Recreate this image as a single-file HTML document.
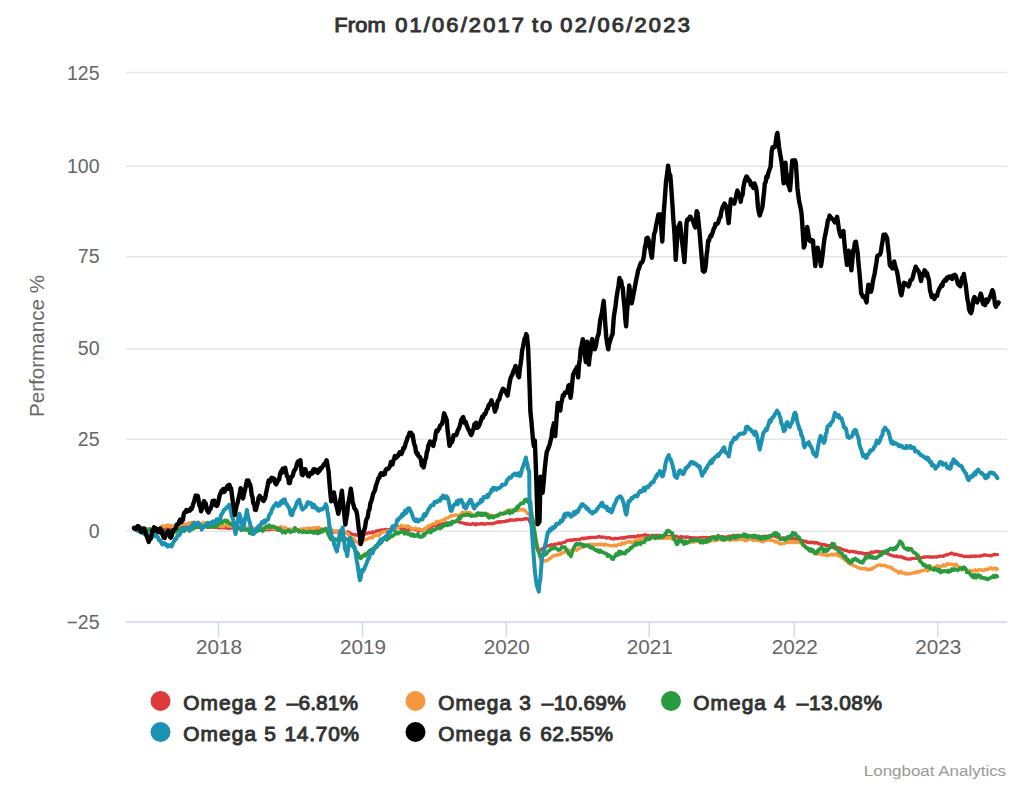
<!DOCTYPE html>
<html><head><meta charset="utf-8"><style>
html,body{margin:0;padding:0;background:#fff;width:1024px;height:785px;overflow:hidden}
svg{display:block}
text{font-family:"Liberation Sans",sans-serif}
.yl{font-size:19.5px;fill:#666}
.xl{font-size:20px;fill:#666}
.lg{font-size:18.5px;font-weight:bold;fill:#333}
.lgr{font-size:19.5px;fill:#333;stroke:#333;stroke-width:0.95px}
.tt{font-size:19.5px;font-weight:bold;fill:#333}
.ttr{font-size:19.5px;fill:#333;stroke:#333;stroke-width:0.95px}
.at{font-size:19.5px;fill:#666}
.cr{font-size:15.5px;fill:#999}
</style></head><body>
<svg width="1024" height="785" viewBox="0 0 1024 785">
<rect width="1024" height="785" fill="#fff"/>
<text transform="translate(334.3,32) scale(1.12,1)" class="ttr" textLength="45.89" lengthAdjust="spacing">From</text>
<text transform="translate(395.3,32) scale(1.12,1)" class="ttr" textLength="114.82" lengthAdjust="spacing">01/06/2017</text>
<text transform="translate(532.0,32) scale(1.12,1)" class="ttr" textLength="18.04" lengthAdjust="spacing">to</text>
<text transform="translate(560.3,32) scale(1.12,1)" class="ttr" textLength="115.62" lengthAdjust="spacing">02/06/2023</text>

<path d="M126,72.5 L1007,72.5" stroke="#e6e6e6" stroke-width="1.6"/>
<path d="M126,166.2 L1007,166.2" stroke="#e6e6e6" stroke-width="1.6"/>
<path d="M126,256.8 L1007,256.8" stroke="#e6e6e6" stroke-width="1.6"/>
<path d="M126,349.0 L1007,349.0" stroke="#e6e6e6" stroke-width="1.6"/>
<path d="M126,439.2 L1007,439.2" stroke="#e6e6e6" stroke-width="1.6"/>
<path d="M126,531.2 L1007,531.2" stroke="#e6e6e6" stroke-width="1.6"/>

<path d="M126,622 L1007,622" stroke="#ccd6eb" stroke-width="1.6"/>
<path d="M218.5,622 L218.5,637" stroke="#ccd6eb" stroke-width="1.3"/>
<text x="219.0" y="653.5" text-anchor="middle" class="xl" textLength="46" lengthAdjust="spacingAndGlyphs">2018</text>
<path d="M362.5,622 L362.5,637" stroke="#ccd6eb" stroke-width="1.3"/>
<text x="363.0" y="653.5" text-anchor="middle" class="xl" textLength="46" lengthAdjust="spacingAndGlyphs">2019</text>
<path d="M506.3,622 L506.3,637" stroke="#ccd6eb" stroke-width="1.3"/>
<text x="506.8" y="653.5" text-anchor="middle" class="xl" textLength="46" lengthAdjust="spacingAndGlyphs">2020</text>
<path d="M649.2,622 L649.2,637" stroke="#ccd6eb" stroke-width="1.3"/>
<text x="649.7" y="653.5" text-anchor="middle" class="xl" textLength="46" lengthAdjust="spacingAndGlyphs">2021</text>
<path d="M794.2,622 L794.2,637" stroke="#ccd6eb" stroke-width="1.3"/>
<text x="794.7" y="653.5" text-anchor="middle" class="xl" textLength="46" lengthAdjust="spacingAndGlyphs">2022</text>
<path d="M937.8,622 L937.8,637" stroke="#ccd6eb" stroke-width="1.3"/>
<text x="938.3" y="653.5" text-anchor="middle" class="xl" textLength="46" lengthAdjust="spacingAndGlyphs">2023</text>

<text x="99.5" y="80.4" text-anchor="end" class="yl">125</text>
<text x="99.5" y="172.6" text-anchor="end" class="yl">100</text>
<text x="99.5" y="263.1" text-anchor="end" class="yl">75</text>
<text x="99.5" y="355.0" text-anchor="end" class="yl">50</text>
<text x="99.5" y="445.9" text-anchor="end" class="yl">25</text>
<text x="99.5" y="538.4" text-anchor="end" class="yl">0</text>
<text x="99.5" y="628.5" text-anchor="end" class="yl">−25</text>

<text transform="translate(43.6,417) rotate(-90)" class="at" textLength="142" lengthAdjust="spacingAndGlyphs">Performance %</text>
<g>
<path d="M134.0,528.5 L134.9,527.8 L135.8,528.5 L136.7,528.1 L137.5,528.5 L138.4,528.8 L139.3,529.2 L140.2,528.6 L141.0,528.5 L141.9,529.0 L142.8,528.6 L143.7,529.5 L144.5,529.1 L145.4,529.1 L146.3,528.8 L147.2,529.7 L148.1,529.8 L148.9,529.9 L149.8,529.7 L150.7,530.0 L151.6,529.7 L152.5,530.0 L153.3,529.9 L154.2,529.9 L155.1,529.3 L156.0,529.6 L156.9,529.5 L157.7,529.8 L158.6,529.7 L159.5,529.8 L160.4,529.4 L161.3,529.8 L162.2,529.5 L163.1,529.8 L164.0,529.6 L164.9,529.3 L165.8,529.0 L166.7,528.7 L167.6,529.1 L168.5,529.0 L169.4,529.5 L170.3,528.6 L171.3,528.5 L172.2,528.3 L173.1,528.7 L174.0,528.2 L174.9,527.9 L175.8,527.6 L176.7,527.9 L177.6,527.9 L178.5,527.5 L179.4,528.5 L180.3,527.9 L181.2,527.9 L182.1,527.4 L183.0,527.2 L183.9,527.5 L184.8,527.0 L185.7,527.5 L186.6,527.1 L187.5,526.9 L188.5,527.4 L189.4,526.8 L190.3,527.7 L191.2,527.6 L192.1,527.7 L193.0,527.1 L193.9,527.7 L194.8,527.3 L195.7,527.1 L196.6,527.4 L197.4,527.2 L198.3,527.4 L199.2,527.4 L200.1,526.7 L201.0,527.0 L201.9,526.7 L202.7,526.6 L203.6,526.7 L204.5,526.8 L205.4,526.7 L206.3,526.8 L207.2,526.7 L208.0,527.0 L208.9,527.1 L209.8,527.3 L210.7,527.1 L211.6,526.7 L212.5,527.2 L213.3,526.9 L214.2,527.2 L215.1,527.3 L216.0,527.3 L216.8,527.3 L217.6,527.7 L218.5,527.9 L219.3,527.9 L220.2,527.9 L221.0,527.6 L221.9,527.3 L222.7,527.6 L223.6,527.9 L224.4,527.6 L225.3,527.7 L226.2,528.0 L227.1,528.1 L228.1,528.2 L229.0,528.5 L229.9,527.8 L230.8,528.1 L231.8,528.0 L232.7,527.7 L233.6,528.3 L234.6,528.2 L235.5,528.3 L236.4,528.0 L237.3,527.4 L238.2,528.1 L239.1,528.2 L240.0,528.4 L240.9,528.2 L241.8,528.8 L242.8,528.7 L243.7,529.5 L244.6,528.8 L245.5,528.4 L246.4,528.8 L247.3,529.1 L248.2,529.0 L249.1,528.3 L250.0,528.6 L250.9,528.1 L251.9,528.0 L252.8,528.6 L253.7,528.5 L254.6,528.3 L255.5,529.0 L256.4,528.6 L257.3,528.9 L258.2,529.3 L259.1,528.6 L260.0,528.8 L261.0,529.0 L261.9,528.3 L262.8,529.0 L263.7,529.1 L264.6,529.1 L265.5,529.5 L266.4,529.4 L267.3,529.6 L268.2,529.5 L269.1,529.6 L270.1,529.0 L271.0,529.4 L271.9,529.4 L272.8,529.3 L273.7,529.0 L274.6,529.2 L275.5,529.1 L276.4,529.2 L277.3,529.9 L278.2,530.1 L279.1,530.0 L280.1,530.4 L281.0,530.6 L281.9,530.5 L282.8,530.1 L283.7,529.8 L284.6,530.2 L285.5,529.6 L286.4,529.6 L287.3,529.8 L288.2,530.5 L289.2,530.2 L290.1,530.4 L291.0,529.7 L291.9,530.5 L292.8,530.7 L293.7,530.6 L294.6,531.0 L295.5,530.5 L296.4,530.0 L297.4,529.9 L298.3,530.5 L299.2,530.2 L300.1,530.1 L300.9,529.8 L301.8,529.6 L302.7,529.5 L303.6,529.1 L304.5,529.5 L305.4,529.1 L306.3,529.1 L307.1,529.3 L308.0,528.6 L308.9,528.9 L309.8,528.7 L310.7,529.1 L311.6,529.2 L312.5,529.6 L313.4,529.7 L314.3,530.3 L315.2,529.8 L316.0,530.0 L316.9,530.2 L317.8,530.3 L318.7,529.9 L319.6,530.7 L320.5,530.4 L321.4,530.7 L322.3,530.2 L323.2,530.6 L324.1,530.6 L325.0,530.0 L325.8,530.0 L326.7,529.8 L327.6,530.5 L328.5,530.6 L329.4,530.4 L330.3,531.4 L331.2,530.5 L332.1,530.9 L333.0,531.2 L333.9,532.1 L334.8,531.9 L335.6,531.6 L336.6,531.8 L337.6,530.9 L338.6,531.5 L339.5,531.4 L340.5,532.2 L341.5,532.1 L342.3,532.3 L343.2,531.9 L344.1,532.8 L345.0,532.7 L345.9,532.5 L346.7,532.4 L347.6,532.0 L348.5,532.0 L349.4,532.9 L350.3,533.4 L351.1,533.6 L352.0,534.3 L352.9,534.4 L353.8,534.9 L354.6,534.9 L355.5,534.5 L356.4,535.2 L357.2,535.0 L358.1,535.0 L358.9,534.7 L359.8,535.5 L360.7,535.8 L361.6,534.9 L362.5,535.1 L363.4,534.5 L364.2,534.4 L365.1,534.3 L366.0,533.3 L366.9,533.6 L367.8,533.2 L368.7,532.6 L369.7,533.0 L370.6,532.9 L371.6,532.6 L372.5,531.9 L373.4,532.5 L374.4,531.8 L375.3,531.7 L376.2,530.9 L377.2,530.8 L378.1,530.9 L379.0,530.6 L380.0,530.3 L380.9,530.1 L381.8,530.0 L382.7,529.9 L383.6,530.3 L384.5,529.6 L385.4,529.4 L386.4,529.7 L387.3,529.8 L388.2,529.7 L389.1,529.7 L390.0,529.4 L390.9,528.9 L391.8,528.7 L392.7,528.3 L393.6,527.6 L394.5,527.7 L395.5,527.1 L396.4,527.3 L397.3,527.0 L398.2,527.1 L399.1,526.8 L400.0,526.6 L400.8,529.1 L401.7,529.0 L402.6,529.3 L403.5,529.8 L404.4,529.2 L405.3,529.3 L406.2,530.3 L407.1,530.3 L408.0,530.0 L408.9,529.4 L409.8,529.3 L410.7,529.0 L411.6,529.1 L412.6,529.4 L413.5,529.5 L414.4,529.5 L415.3,529.2 L416.2,529.9 L417.1,529.8 L418.0,530.5 L418.9,529.9 L419.8,530.7 L420.7,530.5 L421.6,530.7 L422.5,530.2 L423.4,530.1 L424.3,529.1 L425.2,528.6 L426.1,528.8 L427.0,528.4 L427.9,527.9 L428.8,527.6 L429.7,527.6 L430.6,527.1 L431.5,526.6 L432.4,526.1 L433.3,525.8 L434.2,525.6 L435.1,525.7 L436.0,525.6 L436.9,525.4 L437.8,525.3 L438.7,524.8 L439.6,525.1 L440.5,524.1 L441.4,524.2 L442.3,524.0 L443.2,524.3 L444.1,523.7 L445.0,523.5 L445.9,523.0 L446.8,523.0 L447.7,523.2 L448.6,523.2 L449.5,523.0 L450.4,522.5 L451.3,522.8 L452.2,522.5 L453.1,522.3 L454.0,522.0 L454.9,521.5 L455.8,521.2 L456.7,521.4 L457.6,521.6 L458.5,521.5 L459.4,521.9 L460.4,522.7 L461.3,522.4 L462.2,522.8 L463.1,523.0 L464.0,523.2 L464.9,523.7 L465.8,523.7 L466.7,524.2 L467.6,523.9 L468.5,524.0 L469.4,524.2 L470.3,524.5 L471.2,524.3 L472.1,523.9 L473.0,523.6 L473.9,524.3 L474.8,524.0 L475.7,524.8 L476.6,523.7 L477.5,524.2 L478.4,524.1 L479.3,524.1 L480.2,523.6 L481.1,523.9 L481.9,523.7 L482.8,523.5 L483.7,524.3 L484.6,524.0 L485.5,524.0 L486.4,523.9 L487.3,523.7 L488.2,523.5 L489.1,523.8 L490.0,523.7 L490.9,523.5 L491.8,523.6 L492.6,523.8 L493.5,523.5 L494.4,523.0 L495.2,522.8 L496.1,522.9 L497.0,522.0 L497.9,522.4 L498.8,521.6 L499.6,521.7 L500.5,522.3 L501.4,521.7 L502.2,521.7 L503.1,521.6 L504.0,521.6 L504.9,521.4 L505.9,521.0 L506.8,521.1 L507.7,520.5 L508.7,520.9 L509.6,520.7 L510.5,519.7 L511.5,520.2 L512.4,520.0 L513.3,520.2 L514.3,520.1 L515.2,520.2 L516.1,519.5 L517.0,519.9 L517.9,519.5 L518.8,519.3 L519.7,519.4 L520.6,519.9 L521.5,519.3 L522.4,519.3 L523.3,519.4 L524.2,518.9 L525.1,518.6 L526.0,519.0 L526.9,518.7 L527.8,518.8 L528.7,519.6 L529.6,521.3 L530.5,523.0 L531.4,524.7 L532.3,527.1 L533.3,528.9 L534.2,530.5 L535.2,536.8 L536.2,542.5 L537.2,548.8 L538.0,550.4 L538.8,551.9 L539.8,550.4 L540.8,550.0 L541.8,548.8 L542.7,548.8 L543.6,547.9 L544.4,548.0 L545.3,546.9 L546.2,546.8 L547.1,546.0 L547.9,545.8 L548.9,545.7 L549.9,545.6 L550.8,544.7 L551.8,544.9 L552.7,545.1 L553.7,544.8 L554.6,544.2 L555.6,544.2 L556.5,544.1 L557.5,543.9 L558.5,543.6 L559.4,543.0 L560.4,543.8 L561.3,543.3 L562.3,542.8 L563.2,542.7 L564.2,542.5 L565.1,542.0 L566.0,541.4 L566.9,540.6 L567.8,540.4 L568.8,540.2 L569.7,540.2 L570.7,540.4 L571.7,539.8 L572.6,540.1 L573.6,540.0 L574.5,539.6 L575.5,539.7 L576.4,539.8 L577.3,539.6 L578.2,539.4 L579.1,539.7 L579.9,539.4 L580.8,538.8 L581.7,538.5 L582.6,538.1 L583.5,538.8 L584.4,538.2 L585.3,538.5 L586.2,538.1 L587.1,538.0 L588.0,537.7 L588.9,538.0 L589.9,537.4 L590.8,537.4 L591.7,537.5 L592.6,537.3 L593.5,537.3 L594.4,537.5 L595.4,537.4 L596.2,537.3 L597.1,537.1 L598.0,537.1 L598.9,536.4 L599.7,536.9 L600.6,536.9 L601.5,537.4 L602.4,537.2 L603.2,537.0 L604.1,537.2 L605.0,537.4 L605.8,537.9 L606.7,538.0 L607.5,537.8 L608.3,537.5 L609.2,537.7 L610.0,537.8 L610.7,538.6 L611.5,538.8 L612.4,538.8 L613.2,538.7 L614.1,539.0 L615.0,538.2 L615.9,538.6 L616.8,538.6 L617.6,538.6 L618.5,538.3 L619.4,538.1 L620.3,538.1 L621.2,538.0 L622.1,537.9 L622.9,537.7 L623.8,538.2 L624.7,537.4 L625.6,537.7 L626.5,537.3 L627.4,537.0 L628.2,536.7 L629.1,537.0 L630.0,536.9 L630.9,536.4 L631.8,537.0 L632.7,536.8 L633.5,536.3 L634.4,536.5 L635.3,537.1 L636.2,536.3 L637.1,536.4 L637.9,535.6 L638.8,536.2 L639.7,536.2 L640.6,535.7 L641.5,535.7 L642.4,536.2 L643.2,535.8 L644.1,535.1 L645.0,534.7 L645.9,535.4 L646.8,535.4 L647.7,535.3 L648.5,535.6 L649.4,536.2 L650.3,536.0 L651.2,536.2 L652.1,535.4 L652.9,535.2 L653.8,535.9 L654.7,535.8 L655.6,535.4 L656.5,535.5 L657.4,535.4 L658.2,535.4 L659.1,535.5 L660.0,535.8 L660.9,536.3 L661.8,536.6 L662.7,537.0 L663.5,536.7 L664.4,536.6 L665.3,536.3 L666.2,536.4 L667.1,536.6 L667.9,536.3 L668.8,536.5 L669.7,536.6 L670.6,536.3 L671.5,536.2 L672.4,536.1 L673.2,536.3 L674.1,536.9 L675.0,536.7 L675.9,536.1 L676.8,536.5 L677.7,537.2 L678.5,537.3 L679.4,537.1 L680.3,537.2 L681.2,536.4 L682.1,536.8 L683.0,537.0 L683.8,537.2 L684.7,537.2 L685.6,536.9 L686.5,537.5 L687.4,536.8 L688.3,537.1 L689.1,537.6 L690.0,537.7 L690.9,537.7 L691.8,537.7 L692.7,537.9 L693.5,537.8 L694.4,537.9 L695.3,538.2 L696.2,537.8 L697.1,538.4 L698.0,537.8 L698.8,537.8 L699.7,538.2 L700.6,537.6 L701.5,537.6 L702.4,537.4 L703.2,537.7 L704.1,537.8 L705.0,537.6 L705.9,537.4 L706.8,537.6 L707.7,538.0 L708.5,537.4 L709.4,537.8 L710.3,537.5 L711.2,537.3 L712.1,537.3 L713.0,536.9 L713.8,536.7 L714.7,537.2 L715.6,537.4 L716.5,537.2 L717.4,537.2 L718.2,537.2 L719.1,536.7 L720.0,536.8 L720.9,536.7 L721.8,536.6 L722.7,536.9 L723.6,537.5 L724.5,537.0 L725.4,537.5 L726.3,537.4 L727.2,536.8 L728.1,536.5 L729.0,536.4 L729.9,536.0 L730.8,536.7 L731.7,536.3 L732.6,535.9 L733.5,535.8 L734.4,535.6 L735.2,535.8 L736.1,536.1 L737.0,535.3 L737.9,535.7 L738.9,536.0 L739.8,536.1 L740.7,536.1 L741.6,536.2 L742.5,536.4 L743.4,536.0 L744.4,535.9 L745.3,536.2 L746.2,536.1 L747.1,537.2 L748.0,536.3 L749.0,537.0 L749.9,536.6 L750.8,536.7 L751.7,536.5 L752.6,536.0 L753.5,536.1 L754.5,536.1 L755.4,536.3 L756.3,537.0 L757.2,536.9 L758.1,536.5 L759.1,536.8 L760.0,536.9 L760.9,536.9 L761.8,536.5 L762.7,536.5 L763.5,536.3 L764.4,536.3 L765.3,536.3 L766.2,536.1 L767.1,536.9 L767.9,536.7 L768.8,536.4 L769.7,535.6 L770.6,536.0 L771.5,536.0 L772.4,535.7 L773.2,535.6 L774.1,536.1 L775.0,536.1 L775.9,536.7 L776.8,536.9 L777.7,537.1 L778.5,537.4 L779.4,537.4 L780.3,537.9 L781.2,538.2 L782.1,538.0 L782.9,537.8 L783.8,538.0 L784.7,537.9 L785.6,538.3 L786.5,538.4 L787.4,537.8 L788.2,538.0 L789.1,538.7 L790.0,538.7 L790.9,538.3 L791.8,538.8 L792.7,539.0 L793.5,538.7 L794.4,539.3 L795.3,539.1 L796.2,539.6 L797.1,540.0 L798.1,539.7 L799.0,540.2 L799.9,540.9 L800.8,540.7 L801.7,540.5 L802.6,541.0 L803.6,541.0 L804.5,541.4 L805.4,541.2 L806.3,541.3 L807.2,542.5 L808.2,542.3 L809.1,542.6 L810.0,542.7 L810.9,541.9 L811.8,542.6 L812.7,542.3 L813.7,542.6 L814.6,543.1 L815.5,542.4 L816.4,542.9 L817.3,542.7 L818.2,543.6 L819.2,543.7 L820.1,544.2 L821.0,544.1 L821.9,545.1 L822.8,544.9 L823.7,544.4 L824.6,544.7 L825.4,545.4 L826.3,545.0 L827.1,545.7 L828.0,545.9 L828.9,545.5 L829.7,546.0 L830.6,546.5 L831.5,546.8 L832.4,547.2 L833.2,547.7 L834.1,548.0 L835.0,548.3 L835.8,548.3 L836.7,548.4 L837.5,547.6 L838.3,548.3 L839.2,548.0 L840.1,548.3 L841.0,548.8 L841.9,549.4 L842.9,549.6 L843.8,549.7 L844.7,550.4 L845.6,550.6 L846.5,550.4 L847.4,550.8 L848.4,551.4 L849.3,552.0 L850.2,551.2 L851.1,551.6 L852.0,551.5 L852.9,551.6 L853.9,551.5 L854.8,552.1 L855.7,552.0 L856.6,552.1 L857.5,552.6 L858.4,553.0 L859.4,552.7 L860.3,552.9 L861.2,553.2 L862.1,552.9 L863.0,553.3 L864.0,553.8 L864.9,553.6 L865.8,553.6 L866.7,553.7 L867.6,553.3 L868.5,553.5 L869.5,553.2 L870.4,552.9 L871.3,552.0 L872.2,552.2 L873.1,552.3 L874.1,552.0 L875.0,552.1 L875.9,551.4 L876.8,551.7 L877.7,551.3 L878.6,552.1 L879.6,551.7 L880.5,552.1 L881.4,551.8 L882.3,552.2 L883.2,552.1 L884.2,552.4 L885.1,552.6 L886.0,553.4 L886.9,553.5 L887.8,553.8 L888.7,553.9 L889.7,554.8 L890.6,554.8 L891.5,555.5 L892.4,555.6 L893.3,556.2 L894.2,556.0 L895.1,556.3 L896.0,556.3 L896.9,555.9 L897.8,556.7 L898.7,557.0 L899.5,556.8 L900.4,556.5 L901.3,557.0 L902.2,557.4 L903.1,557.1 L904.0,558.0 L904.8,558.5 L905.7,558.3 L906.6,558.8 L907.6,559.1 L908.5,559.1 L909.4,558.8 L910.3,559.2 L911.2,558.9 L912.1,558.4 L913.1,558.4 L914.0,558.4 L914.9,558.3 L915.8,558.1 L916.7,558.4 L917.6,557.9 L918.6,558.7 L919.5,558.4 L920.4,558.5 L921.3,557.5 L922.2,557.2 L923.2,557.4 L924.1,557.2 L925.0,557.0 L925.9,556.9 L926.8,556.8 L927.7,556.9 L928.7,556.9 L929.6,557.1 L930.5,557.0 L931.4,557.2 L932.3,556.9 L933.2,557.2 L934.2,557.0 L935.1,556.8 L936.0,557.0 L936.9,557.0 L937.8,556.8 L938.8,556.3 L939.7,556.3 L940.6,556.0 L941.5,556.2 L942.4,556.0 L943.4,556.3 L944.3,555.7 L945.3,555.1 L946.2,554.8 L947.2,555.0 L948.1,554.4 L949.1,554.1 L950.0,553.7 L950.8,553.7 L951.7,553.0 L952.5,553.7 L953.4,553.8 L954.4,554.6 L955.3,554.4 L956.3,554.2 L957.3,554.7 L958.2,554.9 L959.2,555.1 L960.1,555.6 L961.1,555.4 L962.0,555.7 L963.0,556.0 L964.0,556.7 L964.9,556.4 L965.9,556.3 L966.8,556.4 L967.8,556.6 L968.6,556.7 L969.5,556.2 L970.4,556.6 L971.2,556.2 L972.1,556.4 L973.0,556.3 L973.8,555.8 L974.7,556.0 L975.6,556.5 L976.5,556.1 L977.3,556.2 L978.2,556.1 L979.1,556.2 L979.9,555.9 L980.8,556.0 L981.7,555.7 L982.5,555.7 L983.4,555.2 L984.3,554.7 L985.1,555.3 L986.0,555.0 L986.9,555.2 L987.8,555.3 L988.6,555.3 L989.5,555.7 L990.4,555.9 L991.3,555.6 L992.1,555.1 L993.0,555.0 L993.9,554.6 L994.8,554.4 L995.6,554.6 L996.5,554.7 L997.4,554.6" fill="none" stroke="#dd3a3c" stroke-width="3.3" stroke-linejoin="round" stroke-linecap="round"/>
<path d="M134.0,528.5 L134.9,528.9 L135.8,529.9 L136.7,530.1 L137.5,530.9 L138.4,529.5 L139.3,530.5 L140.2,529.4 L141.0,529.9 L141.9,529.3 L142.8,530.5 L143.7,529.6 L144.5,529.6 L145.4,530.2 L146.3,529.2 L147.2,529.3 L148.1,528.9 L148.9,529.6 L149.8,530.1 L150.7,529.6 L151.6,529.2 L152.5,529.2 L153.3,530.6 L154.2,529.4 L155.1,528.4 L156.0,529.5 L156.9,528.1 L157.7,528.6 L158.6,528.3 L159.5,529.1 L160.4,527.3 L161.3,527.5 L162.2,525.8 L163.0,525.7 L163.9,526.5 L164.8,526.3 L165.7,526.0 L166.6,525.5 L167.4,524.9 L168.3,525.2 L169.2,525.3 L170.1,526.7 L171.0,525.4 L171.9,526.2 L172.8,526.7 L173.8,526.9 L174.7,525.5 L175.7,525.9 L176.6,525.4 L177.6,525.0 L178.5,525.8 L179.4,525.2 L180.2,525.2 L181.1,524.6 L182.0,523.2 L182.9,522.7 L183.8,524.1 L184.6,524.0 L185.5,524.8 L186.4,525.1 L187.3,523.8 L188.2,523.4 L189.1,522.7 L190.0,523.4 L191.0,523.0 L191.9,522.3 L192.9,522.4 L193.8,522.0 L194.8,522.2 L195.7,522.5 L196.6,522.5 L197.4,523.2 L198.3,522.3 L199.2,524.0 L200.1,523.5 L201.0,523.7 L201.8,523.8 L202.7,522.8 L203.6,523.2 L204.5,523.1 L205.4,522.4 L206.2,522.7 L207.1,522.4 L208.0,523.9 L208.9,523.1 L209.8,523.3 L210.7,523.0 L211.6,523.2 L212.5,523.1 L213.3,523.2 L214.2,523.3 L215.1,524.4 L216.0,523.9 L216.8,524.7 L217.6,526.4 L218.5,525.4 L219.3,526.4 L220.2,526.1 L221.0,525.8 L221.9,525.7 L222.7,526.5 L223.6,526.6 L224.4,525.4 L225.3,525.2 L226.2,524.6 L227.1,525.6 L228.1,525.3 L229.0,526.4 L229.9,526.2 L230.8,525.5 L231.8,526.1 L232.7,526.7 L233.6,527.1 L234.6,527.8 L235.5,527.1 L236.4,527.6 L237.3,527.9 L238.2,528.7 L239.1,528.0 L240.0,527.2 L240.9,528.0 L241.8,528.1 L242.8,528.3 L243.7,528.7 L244.6,528.5 L245.5,528.5 L246.4,527.8 L247.3,527.6 L248.2,528.3 L249.1,528.3 L250.0,528.9 L250.9,528.1 L251.9,528.3 L252.8,527.6 L253.7,528.9 L254.6,529.0 L255.5,528.4 L256.4,528.6 L257.3,528.0 L258.2,529.0 L259.1,528.1 L260.0,528.4 L261.0,528.3 L261.9,527.8 L262.8,528.1 L263.7,528.4 L264.6,528.0 L265.5,528.7 L266.4,527.9 L267.3,528.0 L268.2,528.5 L269.1,527.2 L270.1,528.2 L271.0,528.2 L271.9,528.2 L272.8,528.9 L273.7,527.7 L274.6,527.9 L275.5,528.1 L276.4,527.6 L277.3,527.4 L278.2,527.8 L279.1,528.2 L280.1,527.1 L281.0,526.5 L281.9,528.0 L282.8,528.8 L283.7,529.1 L284.6,527.3 L285.5,527.6 L286.4,529.0 L287.3,528.9 L288.2,529.8 L289.2,529.1 L290.1,529.0 L291.0,529.2 L291.9,529.7 L292.8,529.2 L293.7,528.9 L294.6,529.8 L295.5,529.5 L296.4,529.9 L297.4,529.6 L298.3,529.7 L299.2,529.6 L300.1,529.4 L300.9,528.8 L301.8,529.1 L302.7,529.7 L303.6,529.2 L304.5,529.5 L305.4,529.1 L306.3,529.5 L307.1,528.9 L308.0,527.9 L308.9,528.0 L309.8,528.6 L310.7,529.0 L311.6,528.2 L312.5,527.9 L313.4,528.6 L314.3,528.3 L315.2,527.5 L316.0,528.1 L316.9,527.7 L317.8,527.3 L318.7,527.4 L319.6,528.0 L320.5,528.4 L321.4,529.7 L322.3,529.1 L323.2,530.1 L324.1,529.4 L325.0,529.3 L325.8,528.5 L326.7,528.0 L327.6,527.7 L328.5,528.0 L329.4,529.0 L330.3,530.0 L331.2,529.4 L332.1,530.2 L333.0,530.6 L333.9,530.4 L334.8,531.4 L335.6,531.6 L336.6,531.5 L337.6,532.9 L338.6,532.6 L339.5,531.4 L340.5,532.2 L341.5,532.1 L342.4,532.6 L343.3,531.8 L344.2,532.1 L345.1,532.0 L346.0,533.0 L347.0,533.0 L347.9,533.7 L348.8,535.2 L349.7,536.4 L350.6,536.7 L351.5,538.6 L352.4,539.4 L353.3,538.1 L354.2,539.2 L355.1,541.1 L356.0,541.8 L356.9,541.8 L357.7,542.3 L358.6,543.5 L359.6,543.9 L360.6,542.8 L361.5,542.4 L362.5,542.5 L363.4,540.2 L364.4,540.1 L365.3,539.6 L366.1,539.6 L367.0,539.7 L367.9,538.6 L368.8,538.0 L369.7,537.8 L370.5,538.1 L371.4,537.5 L372.3,538.0 L373.2,536.0 L374.1,535.9 L374.9,535.2 L375.8,535.5 L376.7,535.1 L377.6,535.2 L378.5,535.9 L379.4,534.6 L380.2,534.4 L381.1,532.9 L382.0,532.1 L382.9,532.2 L383.8,531.7 L384.6,531.5 L385.5,531.6 L386.4,531.2 L387.3,530.9 L388.2,530.5 L389.1,531.5 L390.0,530.1 L390.9,530.4 L391.8,530.2 L392.7,529.4 L393.6,528.5 L394.5,529.0 L395.5,529.3 L396.4,528.5 L397.3,528.0 L398.2,527.9 L399.1,526.9 L400.0,526.4 L400.8,525.8 L401.7,525.3 L402.6,526.3 L403.5,526.5 L404.4,526.4 L405.3,525.9 L406.2,526.6 L407.1,526.0 L408.0,526.4 L408.9,526.2 L409.8,527.3 L410.7,528.4 L411.6,528.0 L412.6,529.2 L413.5,529.2 L414.4,528.8 L415.3,528.0 L416.2,528.7 L417.1,529.0 L418.0,529.5 L418.9,528.8 L419.8,529.5 L420.7,529.7 L421.6,529.9 L422.5,530.2 L423.4,529.5 L424.3,529.4 L425.2,528.1 L426.1,528.6 L427.0,527.1 L427.9,526.0 L428.8,525.9 L429.7,526.1 L430.6,525.2 L431.5,524.6 L432.4,524.0 L433.3,523.7 L434.2,523.7 L435.1,524.0 L436.0,522.5 L436.9,521.2 L437.8,521.9 L438.7,521.8 L439.6,521.5 L440.5,521.6 L441.4,520.8 L442.3,520.3 L443.2,520.0 L444.1,519.4 L445.0,519.5 L445.9,518.3 L446.8,517.8 L447.7,517.9 L448.6,517.8 L449.5,516.9 L450.4,516.0 L451.3,515.3 L452.2,516.1 L453.1,515.5 L454.0,515.4 L454.9,515.0 L455.8,515.1 L456.7,514.9 L457.6,515.3 L458.5,515.3 L459.4,515.3 L460.4,514.2 L461.3,514.8 L462.2,512.4 L463.1,512.3 L464.0,513.0 L464.9,512.7 L465.8,512.9 L466.7,512.8 L467.6,512.6 L468.5,512.5 L469.4,512.4 L470.3,512.8 L471.2,514.0 L472.1,514.2 L473.0,514.7 L473.9,515.6 L474.8,515.7 L475.7,515.5 L476.6,515.0 L477.5,515.2 L478.4,515.6 L479.3,515.0 L480.2,514.8 L481.1,515.4 L481.9,514.9 L482.8,514.9 L483.7,515.2 L484.6,514.8 L485.5,514.9 L486.4,514.1 L487.3,515.2 L488.2,514.0 L489.1,515.1 L490.0,515.0 L490.9,515.7 L491.8,515.4 L492.6,515.8 L493.5,515.4 L494.4,516.0 L495.2,516.5 L496.1,515.8 L497.0,515.2 L497.9,515.6 L498.8,514.6 L499.6,514.1 L500.5,514.0 L501.4,513.6 L502.2,513.5 L503.1,514.3 L504.0,513.2 L504.9,511.8 L505.9,512.7 L506.8,510.8 L507.7,511.5 L508.7,511.3 L509.6,510.8 L510.5,509.8 L511.5,509.9 L512.4,510.7 L513.3,511.2 L514.3,510.7 L515.2,510.4 L516.1,510.5 L517.0,510.7 L517.9,510.9 L518.8,510.4 L519.7,509.8 L520.5,509.4 L521.4,509.6 L522.3,510.1 L523.2,509.9 L524.1,509.7 L525.0,510.4 L525.9,511.5 L526.9,512.9 L527.8,513.7 L528.7,514.5 L529.7,514.9 L530.6,516.0 L531.1,516.7 L532.0,521.7 L533.0,525.2 L533.9,529.6 L534.8,534.1 L535.7,538.1 L536.6,542.1 L537.5,546.5 L538.5,551.4 L539.4,556.1 L540.3,559.5 L541.2,559.3 L542.1,559.2 L543.1,560.2 L544.0,561.0 L544.9,561.1 L545.8,560.5 L546.6,560.8 L547.5,560.3 L548.4,560.0 L549.3,558.3 L550.1,558.4 L551.0,558.0 L552.0,557.1 L552.9,555.8 L553.9,556.0 L554.8,555.4 L555.8,555.1 L556.7,555.5 L557.7,554.4 L558.6,555.0 L559.5,554.0 L560.4,554.4 L561.3,553.4 L562.1,552.8 L563.0,552.6 L563.9,552.5 L564.8,551.9 L565.6,550.4 L566.5,550.4 L567.4,549.6 L568.3,550.0 L569.1,550.8 L570.0,551.7 L570.9,550.4 L571.8,550.8 L572.8,549.3 L573.8,549.9 L574.7,548.7 L575.7,550.0 L576.6,550.3 L577.6,549.2 L578.5,548.8 L579.4,548.6 L580.2,547.9 L581.1,547.0 L581.9,547.2 L582.8,546.5 L583.6,546.9 L584.5,545.9 L585.3,545.1 L586.2,545.8 L587.1,545.2 L588.1,544.9 L589.1,544.1 L590.0,544.9 L591.0,544.3 L591.9,545.0 L592.9,544.2 L593.8,544.2 L594.8,544.7 L595.7,545.1 L596.6,544.4 L597.6,544.2 L598.5,544.5 L599.4,544.2 L600.3,544.9 L601.3,544.0 L602.2,544.2 L603.1,544.7 L604.1,545.3 L605.0,544.2 L605.8,544.0 L606.7,545.0 L607.5,545.0 L608.3,545.2 L609.2,545.3 L610.0,545.9 L610.7,545.6 L611.5,545.7 L612.4,545.6 L613.2,545.9 L614.1,545.0 L615.0,545.3 L615.9,546.1 L616.8,545.8 L617.6,544.9 L618.5,544.4 L619.4,544.4 L620.3,544.6 L621.2,544.8 L622.1,542.8 L622.9,543.4 L623.8,543.6 L624.7,543.9 L625.6,542.5 L626.5,542.5 L627.4,542.2 L628.2,541.6 L629.1,542.2 L630.0,541.5 L630.9,541.8 L631.8,542.9 L632.7,542.7 L633.5,542.2 L634.4,541.1 L635.3,541.3 L636.2,540.2 L637.1,541.1 L637.9,540.1 L638.8,539.1 L639.7,539.1 L640.6,539.8 L641.5,538.3 L642.4,539.0 L643.2,538.3 L644.1,538.7 L645.0,537.9 L645.9,538.8 L646.8,539.0 L647.7,539.2 L648.5,538.3 L649.4,538.7 L650.3,537.7 L651.2,537.9 L652.1,538.3 L652.9,536.9 L653.8,537.7 L654.7,537.5 L655.6,537.5 L656.5,537.9 L657.4,537.7 L658.2,537.2 L659.1,537.8 L660.0,537.3 L660.9,538.2 L661.8,538.2 L662.7,538.7 L663.5,538.5 L664.4,537.9 L665.3,538.0 L666.2,538.2 L667.1,537.4 L667.9,538.2 L668.8,537.7 L669.7,537.6 L670.7,537.4 L671.6,538.7 L672.5,539.2 L673.4,538.7 L674.3,539.7 L675.3,539.7 L676.2,539.8 L677.1,540.9 L678.0,541.1 L678.9,541.3 L679.8,541.7 L680.8,541.1 L681.7,542.1 L682.6,541.6 L683.5,541.8 L684.4,541.0 L685.4,541.6 L686.3,541.4 L687.2,542.3 L688.1,541.5 L689.0,541.2 L689.9,542.3 L690.9,541.8 L691.8,541.8 L692.7,542.2 L693.6,541.7 L694.5,542.1 L695.5,540.2 L696.4,541.1 L697.3,540.5 L698.1,541.4 L699.0,540.3 L699.9,541.1 L700.8,540.0 L701.7,541.1 L702.5,540.2 L703.4,539.6 L704.3,540.1 L705.2,539.8 L706.1,540.4 L707.0,541.5 L707.8,541.1 L708.7,541.1 L709.6,541.5 L710.4,539.8 L711.3,539.7 L712.2,540.0 L713.1,540.8 L713.9,540.7 L714.8,540.6 L715.7,540.3 L716.5,540.1 L717.4,539.5 L718.3,539.7 L719.1,539.7 L720.0,540.0 L720.9,539.6 L721.8,539.2 L722.7,539.4 L723.6,539.1 L724.5,540.1 L725.4,540.0 L726.3,539.6 L727.2,539.5 L728.1,538.9 L729.0,539.8 L729.9,540.2 L730.8,540.1 L731.7,539.3 L732.6,540.0 L733.5,538.9 L734.4,539.6 L735.2,539.8 L736.1,539.9 L737.0,540.0 L737.9,539.1 L738.9,539.0 L739.8,539.6 L740.7,539.4 L741.6,539.3 L742.5,539.5 L743.4,539.8 L744.4,540.5 L745.3,540.5 L746.2,540.8 L747.1,540.3 L748.0,538.8 L749.0,539.1 L749.9,539.4 L750.8,539.1 L751.7,539.6 L752.6,539.8 L753.5,540.5 L754.5,540.4 L755.4,538.9 L756.3,540.0 L757.2,540.4 L758.1,539.7 L759.1,540.4 L760.0,540.2 L760.9,541.4 L761.8,540.9 L762.7,541.7 L763.5,541.9 L764.4,540.6 L765.3,540.4 L766.2,540.4 L767.1,540.1 L767.9,538.9 L768.8,539.7 L769.7,540.0 L770.6,540.7 L771.5,540.1 L772.4,540.3 L773.3,540.8 L774.2,541.1 L775.1,541.9 L776.0,540.9 L777.0,542.3 L777.9,542.2 L778.8,542.8 L779.7,544.0 L780.6,544.0 L781.5,543.7 L782.4,543.3 L783.3,543.5 L784.2,543.6 L785.1,543.2 L786.0,541.7 L786.8,541.7 L787.7,542.5 L788.6,542.4 L789.5,541.7 L790.4,541.4 L791.2,542.5 L792.1,542.2 L793.0,541.4 L793.9,542.4 L794.7,541.7 L795.6,542.6 L796.5,542.3 L797.3,541.6 L798.2,542.3 L799.0,542.7 L799.9,542.6 L800.8,543.1 L801.6,543.2 L802.5,545.0 L803.3,545.8 L804.2,545.9 L805.1,546.8 L805.9,547.6 L806.8,548.3 L807.7,548.2 L808.6,548.8 L809.5,549.8 L810.5,550.2 L811.4,550.6 L812.3,551.6 L813.2,552.4 L814.1,552.3 L815.0,553.1 L816.0,554.0 L816.9,554.2 L817.8,554.0 L818.7,553.6 L819.6,554.1 L820.5,554.1 L821.5,553.5 L822.4,554.0 L823.3,554.9 L824.2,555.1 L825.1,555.2 L826.0,554.6 L826.9,555.6 L827.8,555.6 L828.7,555.0 L829.6,555.0 L830.5,554.9 L831.4,554.1 L832.3,554.5 L833.2,555.2 L834.1,554.3 L835.0,554.0 L835.8,554.8 L836.7,553.9 L837.5,553.7 L838.3,556.0 L839.2,556.0 L840.1,555.6 L841.0,556.8 L841.9,557.5 L842.9,558.8 L843.8,558.6 L844.7,558.9 L845.6,560.7 L846.5,560.7 L847.4,561.6 L848.4,562.9 L849.3,563.7 L850.2,564.2 L851.1,564.3 L852.0,563.8 L852.9,565.6 L853.9,565.3 L854.8,566.2 L855.7,566.4 L856.6,566.7 L857.5,567.5 L858.4,567.5 L859.3,568.1 L860.2,568.7 L861.1,568.3 L861.9,568.9 L862.8,568.7 L863.7,568.2 L864.6,568.4 L865.5,569.2 L866.4,568.8 L867.2,569.9 L868.1,569.7 L869.0,569.8 L869.9,569.0 L870.8,568.7 L871.8,569.5 L872.7,568.0 L873.6,567.9 L874.5,567.3 L875.4,566.8 L876.3,566.2 L877.3,565.3 L878.2,565.2 L879.0,565.0 L879.9,564.7 L880.8,565.7 L881.6,565.6 L882.5,565.4 L883.3,565.3 L884.2,565.5 L885.1,565.2 L886.0,566.1 L886.9,566.8 L887.8,566.7 L888.7,567.2 L889.7,567.0 L890.6,567.5 L891.5,567.2 L892.4,569.0 L893.3,569.3 L894.2,569.8 L895.2,570.8 L896.1,571.0 L897.0,571.0 L897.9,572.1 L898.8,573.2 L899.7,572.1 L900.7,571.5 L901.6,572.0 L902.5,573.2 L903.4,573.2 L904.3,573.1 L905.3,574.0 L906.2,573.2 L907.1,574.0 L908.0,574.1 L908.9,573.8 L909.8,573.2 L910.8,573.3 L911.7,573.3 L912.6,573.2 L913.5,572.7 L914.4,572.1 L915.4,573.0 L916.3,572.0 L917.2,571.4 L918.1,572.4 L919.0,571.7 L919.9,571.7 L920.9,570.9 L921.8,570.9 L922.7,570.7 L923.6,570.7 L924.5,570.1 L925.5,569.6 L926.4,569.4 L927.3,571.0 L928.2,570.6 L929.1,569.6 L930.0,569.4 L931.0,568.6 L931.9,568.7 L932.8,567.6 L933.7,567.1 L934.6,567.8 L935.5,566.9 L936.5,566.7 L937.4,565.8 L938.3,566.3 L939.2,567.2 L940.1,566.4 L941.0,566.6 L941.9,565.9 L942.8,566.0 L943.7,564.8 L944.6,565.9 L945.5,566.0 L946.4,564.8 L947.3,563.6 L948.2,564.4 L949.1,564.3 L950.0,564.0 L950.8,564.1 L951.5,564.2 L952.5,564.9 L953.4,565.0 L954.4,564.4 L955.4,565.3 L956.3,564.2 L957.3,566.1 L958.2,566.1 L959.2,567.4 L960.1,567.0 L961.1,567.8 L962.0,567.4 L963.0,568.1 L964.0,569.2 L964.9,569.0 L965.9,569.9 L966.8,570.0 L967.8,570.1 L968.7,570.8 L969.7,570.9 L970.6,570.5 L971.6,570.8 L972.5,571.1 L973.5,570.9 L974.5,570.3 L975.4,569.7 L976.4,571.2 L977.3,570.4 L978.3,570.7 L979.2,569.4 L980.2,569.9 L981.1,569.9 L982.1,570.0 L983.1,570.8 L984.0,570.1 L985.0,569.2 L985.9,570.0 L986.9,569.5 L987.8,569.0 L988.8,569.0 L989.6,568.7 L990.5,567.7 L991.4,568.3 L992.2,568.9 L993.1,569.1 L993.9,568.5 L994.8,568.3 L995.7,568.0 L996.5,569.5 L997.4,569.0" fill="none" stroke="#f7983e" stroke-width="3.3" stroke-linejoin="round" stroke-linecap="round"/>
<path d="M134.0,528.5 L134.9,528.5 L135.8,527.4 L136.7,527.1 L137.5,527.9 L138.4,528.6 L139.3,527.4 L140.2,527.0 L141.0,529.0 L141.9,528.7 L142.8,527.8 L143.7,528.8 L144.5,529.5 L145.4,529.6 L146.3,530.7 L147.2,530.8 L148.1,530.9 L148.9,530.8 L149.8,528.8 L150.7,530.1 L151.6,530.2 L152.5,529.4 L153.3,529.7 L154.2,528.7 L155.1,530.5 L156.0,529.6 L156.9,532.0 L157.7,532.0 L158.6,530.3 L159.5,531.0 L160.4,531.9 L161.3,531.3 L162.2,530.7 L163.1,532.4 L164.1,531.7 L165.0,531.9 L165.9,532.5 L166.8,532.6 L167.7,532.1 L168.6,532.4 L169.6,532.2 L170.5,530.8 L171.4,531.0 L172.3,531.1 L173.2,530.6 L174.2,530.8 L175.1,531.9 L176.0,532.1 L176.9,530.0 L177.8,529.6 L178.7,529.3 L179.7,531.6 L180.6,528.8 L181.5,528.9 L182.4,528.3 L183.3,528.5 L184.2,531.3 L185.1,530.0 L186.0,528.9 L186.8,529.2 L187.7,529.6 L188.6,529.0 L189.5,531.1 L190.4,529.5 L191.3,529.7 L192.1,526.9 L193.0,528.7 L193.9,528.6 L194.8,526.2 L195.7,526.6 L196.6,526.8 L197.4,525.6 L198.3,526.9 L199.2,523.8 L200.1,525.9 L201.0,526.4 L201.8,526.3 L202.7,526.2 L203.6,527.3 L204.5,526.0 L205.4,526.0 L206.2,526.2 L207.1,524.8 L208.0,527.4 L208.9,525.0 L209.8,525.2 L210.7,526.3 L211.6,526.1 L212.5,526.3 L213.3,526.8 L214.2,525.5 L215.1,527.1 L216.0,526.2 L216.8,526.6 L217.6,525.2 L218.5,523.9 L219.3,522.8 L220.2,521.8 L221.0,522.8 L221.9,523.2 L222.7,521.1 L223.6,521.5 L224.4,520.8 L225.3,520.1 L226.1,521.6 L227.0,522.0 L227.8,521.0 L228.7,523.1 L229.5,523.3 L230.4,523.9 L231.2,523.3 L232.1,524.6 L232.9,524.7 L233.8,526.4 L234.6,525.4 L235.5,526.4 L236.4,525.6 L237.4,527.7 L238.3,528.2 L239.3,527.3 L240.3,528.4 L241.2,530.3 L242.2,528.6 L243.1,529.0 L244.1,529.9 L245.0,529.8 L246.0,529.4 L246.9,530.2 L247.9,530.3 L248.8,529.4 L249.8,533.5 L250.8,532.8 L251.6,531.8 L252.5,534.1 L253.3,533.3 L254.2,531.0 L255.0,532.2 L255.9,531.5 L256.7,530.5 L257.6,531.1 L258.4,530.2 L259.3,528.5 L260.2,527.9 L261.1,530.5 L262.0,529.5 L262.9,531.0 L263.8,530.0 L264.6,527.8 L265.5,527.2 L266.4,526.2 L267.3,526.4 L268.2,527.4 L269.1,525.1 L270.1,525.8 L271.0,527.5 L271.9,527.2 L272.8,526.4 L273.7,526.4 L274.5,526.8 L275.4,527.6 L276.2,527.5 L277.1,528.7 L277.9,528.5 L278.8,530.2 L279.7,528.6 L280.7,529.7 L281.7,530.7 L282.6,532.7 L283.6,532.2 L284.5,531.3 L285.5,532.9 L286.4,531.5 L287.4,531.2 L288.3,529.9 L289.3,530.8 L290.3,532.3 L291.2,531.2 L292.2,531.5 L293.1,531.5 L294.1,530.2 L295.0,527.6 L296.0,530.6 L296.9,530.2 L297.9,530.1 L298.9,532.0 L299.8,531.2 L300.8,531.4 L301.7,531.5 L302.6,532.3 L303.5,531.1 L304.4,532.0 L305.3,531.8 L306.2,532.2 L307.1,532.2 L308.0,532.4 L308.9,531.6 L309.8,531.3 L310.7,532.1 L311.6,531.6 L312.5,532.2 L313.4,533.1 L314.3,532.8 L315.2,531.6 L316.0,531.5 L316.9,533.2 L317.8,533.4 L318.7,532.9 L319.6,533.0 L320.5,532.2 L321.4,530.0 L322.3,531.9 L323.2,529.3 L324.1,530.3 L325.0,530.7 L325.8,528.7 L326.7,529.8 L327.6,532.1 L328.5,535.3 L329.4,536.0 L330.3,538.7 L331.2,539.6 L332.2,538.4 L333.1,539.0 L334.1,539.3 L335.0,539.1 L335.9,539.6 L336.9,540.1 L337.7,540.4 L338.6,538.0 L339.4,538.9 L340.3,539.2 L341.2,539.0 L342.0,539.9 L342.9,537.5 L343.8,536.7 L344.6,538.0 L345.5,538.5 L346.3,539.5 L347.2,539.5 L348.0,539.1 L348.9,541.4 L349.8,542.6 L350.6,543.5 L351.5,545.6 L352.3,545.4 L353.2,546.8 L354.1,546.4 L354.9,550.6 L355.8,550.8 L356.6,552.4 L357.5,552.7 L358.4,554.2 L359.2,557.7 L360.1,556.7 L360.9,558.4 L361.9,557.2 L362.8,555.6 L363.8,555.7 L364.8,554.1 L365.7,555.8 L366.7,553.9 L367.5,552.9 L368.4,552.2 L369.2,550.8 L370.1,550.6 L371.0,549.7 L371.8,549.3 L372.7,549.3 L373.5,548.1 L374.4,549.4 L375.3,547.7 L376.2,546.5 L377.1,547.0 L378.0,545.0 L378.9,544.3 L379.8,544.0 L380.7,541.8 L381.6,542.4 L382.4,540.5 L383.3,539.1 L384.2,539.2 L385.1,539.2 L386.0,538.5 L386.9,540.0 L387.8,537.7 L388.7,538.5 L389.6,537.8 L390.4,536.7 L391.3,535.4 L392.2,536.4 L393.0,535.4 L393.9,534.9 L394.8,534.6 L395.7,531.9 L396.5,533.0 L397.4,532.3 L398.3,533.8 L399.1,532.7 L400.0,532.1 L400.8,532.3 L401.7,531.9 L402.6,531.7 L403.5,531.6 L404.4,533.8 L405.3,531.3 L406.2,532.9 L407.1,533.7 L408.0,534.1 L408.9,532.9 L409.8,533.6 L410.7,535.6 L411.6,534.5 L412.6,534.2 L413.5,536.2 L414.4,535.0 L415.3,536.2 L416.2,535.4 L417.1,535.3 L418.0,533.7 L418.9,536.8 L419.8,537.0 L420.7,536.9 L421.6,536.3 L422.5,536.7 L423.4,534.2 L424.3,535.5 L425.2,533.4 L426.1,533.4 L427.0,532.2 L427.9,531.5 L428.8,531.8 L429.7,530.8 L430.6,532.6 L431.5,531.9 L432.4,529.9 L433.3,530.2 L434.2,530.2 L435.1,529.1 L436.0,529.2 L436.9,528.1 L437.8,527.9 L438.7,527.9 L439.6,528.5 L440.5,528.5 L441.4,525.7 L442.3,527.1 L443.2,525.9 L444.1,525.8 L445.0,525.0 L445.9,524.1 L446.8,525.4 L447.7,523.4 L448.6,525.0 L449.5,523.4 L450.4,523.8 L451.3,524.5 L452.2,521.4 L453.1,522.3 L454.0,521.5 L454.9,521.5 L455.8,521.6 L456.7,520.4 L457.6,521.1 L458.5,518.7 L459.4,517.0 L460.4,518.3 L461.3,516.3 L462.2,516.0 L463.1,515.0 L464.0,514.9 L464.9,515.5 L465.8,515.0 L466.7,514.4 L467.6,514.5 L468.5,515.3 L469.4,514.7 L470.3,515.4 L471.2,516.1 L472.1,516.2 L473.0,515.5 L473.9,515.7 L474.8,515.6 L475.7,515.9 L476.6,513.9 L477.5,514.8 L478.4,513.0 L479.3,514.3 L480.2,513.5 L481.1,515.1 L481.9,513.5 L482.8,515.1 L483.7,513.5 L484.6,514.3 L485.5,513.4 L486.4,515.5 L487.3,514.6 L488.2,517.3 L489.1,517.9 L490.0,517.2 L490.9,517.4 L491.8,516.0 L492.6,516.7 L493.5,517.7 L494.4,516.8 L495.2,516.3 L496.1,516.5 L497.0,515.3 L497.9,515.7 L498.8,515.4 L499.6,514.1 L500.5,513.2 L501.4,513.7 L502.2,513.7 L503.1,513.5 L504.0,513.2 L504.9,513.5 L505.9,512.7 L506.8,512.4 L507.7,512.1 L508.7,510.4 L509.6,513.5 L510.5,512.4 L511.5,511.7 L512.4,512.5 L513.3,510.7 L514.3,509.5 L515.2,510.4 L516.1,509.6 L517.1,506.6 L518.0,507.7 L518.9,505.6 L519.9,504.7 L520.8,503.3 L521.7,503.4 L522.7,502.8 L523.6,503.2 L524.5,500.3 L525.5,499.4 L526.4,499.2 L527.2,501.2 L528.1,502.1 L528.9,502.5 L529.8,502.5 L530.6,502.0 L531.1,510.6 L532.1,516.1 L533.2,521.2 L534.2,529.0 L535.2,535.8 L536.2,542.9 L537.2,547.3 L538.3,551.5 L539.3,552.8 L540.3,556.5 L541.2,556.5 L542.1,555.5 L543.1,555.0 L544.0,554.3 L544.9,555.0 L545.8,553.9 L546.7,553.7 L547.6,552.0 L548.6,551.0 L549.5,550.4 L550.3,549.7 L551.2,548.5 L552.1,548.4 L553.0,548.8 L553.8,548.3 L554.7,547.3 L555.6,548.1 L556.5,548.4 L557.5,549.5 L558.5,550.1 L559.4,549.6 L560.4,549.6 L561.3,547.3 L562.3,546.8 L563.2,547.3 L564.2,547.6 L565.1,547.1 L566.0,549.3 L566.9,550.1 L567.8,551.9 L568.9,554.2 L569.9,554.7 L570.9,556.5 L571.9,553.3 L572.9,549.9 L574.0,547.3 L574.9,545.6 L575.8,544.1 L576.7,543.6 L577.6,544.9 L578.5,544.2 L579.4,543.8 L580.2,543.6 L581.1,544.5 L581.9,544.3 L582.8,544.5 L583.6,546.6 L584.5,545.2 L585.3,545.5 L586.2,545.8 L587.1,545.1 L588.1,545.8 L589.1,546.9 L590.0,546.4 L591.0,547.9 L591.9,547.3 L592.9,547.6 L593.8,548.8 L594.8,549.6 L595.7,550.5 L596.7,549.8 L597.7,551.4 L598.6,550.4 L599.6,552.2 L600.5,550.4 L601.5,551.9 L602.4,551.7 L603.2,552.5 L604.1,552.9 L605.0,553.4 L605.8,553.2 L606.7,553.9 L607.5,556.1 L608.3,554.7 L609.2,556.0 L610.0,556.1 L610.7,556.2 L611.5,558.3 L612.4,559.1 L613.3,559.2 L614.1,557.0 L615.0,556.6 L615.9,554.1 L616.8,554.0 L617.7,555.2 L618.6,551.9 L619.5,551.4 L620.5,554.0 L621.4,551.9 L622.4,553.5 L623.3,553.0 L624.3,553.4 L625.2,553.7 L626.1,551.4 L627.0,550.5 L627.8,551.2 L628.7,550.5 L629.5,549.4 L630.4,547.8 L631.3,548.2 L632.1,546.9 L633.0,546.5 L634.0,545.6 L634.9,545.0 L635.8,543.3 L636.7,544.9 L637.6,543.1 L638.5,543.4 L639.5,543.0 L640.4,544.3 L641.3,542.3 L642.2,542.4 L643.1,542.4 L644.1,542.5 L645.0,540.7 L645.9,538.7 L646.8,539.8 L647.7,539.2 L648.6,538.1 L649.6,539.4 L650.5,537.7 L651.4,537.5 L652.3,536.9 L653.2,535.8 L654.2,536.1 L655.1,538.3 L656.0,537.1 L656.9,537.3 L657.8,538.0 L658.7,537.4 L659.7,537.7 L660.6,535.6 L661.5,536.9 L662.4,536.1 L663.3,536.7 L664.2,535.4 L665.1,533.6 L666.0,534.1 L666.8,530.9 L667.7,530.8 L668.6,530.5 L669.5,531.8 L670.4,532.0 L671.4,533.1 L672.3,533.1 L673.2,536.0 L674.1,539.3 L675.0,540.3 L675.9,542.3 L676.9,544.5 L677.7,543.8 L678.6,540.7 L679.4,541.7 L680.3,540.0 L681.2,539.0 L682.1,541.8 L683.1,541.5 L684.0,544.2 L684.9,543.4 L685.8,541.3 L686.6,543.2 L687.5,543.0 L688.3,542.1 L689.2,541.7 L690.1,541.3 L690.9,539.8 L691.8,540.0 L692.6,540.2 L693.5,540.9 L694.4,540.2 L695.2,539.4 L696.1,539.6 L696.9,540.3 L697.8,539.7 L698.7,540.0 L699.5,540.8 L700.4,542.7 L701.2,540.6 L702.1,542.2 L703.0,542.8 L703.8,540.4 L704.7,541.5 L705.5,542.3 L706.4,540.1 L707.3,541.8 L708.1,539.6 L709.0,540.6 L709.8,540.6 L710.7,537.7 L711.6,537.3 L712.4,537.7 L713.4,538.1 L714.3,537.7 L715.3,537.5 L716.2,539.6 L717.2,537.8 L718.1,535.5 L719.1,537.3 L720.0,537.7 L720.9,537.4 L721.8,539.5 L722.8,538.4 L723.7,540.0 L724.6,538.2 L725.5,539.3 L726.5,538.0 L727.4,537.8 L728.2,537.5 L729.1,538.4 L730.0,539.4 L730.9,538.0 L731.8,537.5 L732.6,536.2 L733.5,535.3 L734.4,537.9 L735.3,538.1 L736.2,537.7 L737.1,537.4 L737.9,536.9 L738.8,535.5 L739.7,536.5 L740.6,536.1 L741.5,535.9 L742.4,535.2 L743.2,536.1 L744.1,534.2 L745.0,536.8 L745.9,534.6 L746.8,536.6 L747.7,537.4 L748.5,535.6 L749.4,535.7 L750.3,536.1 L751.2,536.5 L752.1,536.7 L752.9,535.7 L753.8,537.5 L754.7,535.3 L755.6,536.3 L756.5,537.3 L757.4,536.5 L758.2,536.1 L759.1,538.5 L760.0,537.8 L760.9,539.1 L761.8,536.9 L762.7,538.7 L763.6,538.0 L764.6,538.3 L765.5,536.8 L766.4,538.0 L767.3,537.2 L768.2,536.4 L769.2,537.3 L770.1,536.9 L770.9,536.5 L771.8,535.0 L772.7,534.9 L773.5,533.7 L774.4,535.0 L775.2,532.8 L776.1,533.0 L777.0,533.4 L777.9,535.6 L778.8,534.6 L779.7,539.0 L780.6,539.3 L781.5,539.1 L782.4,539.1 L783.3,539.1 L784.1,539.5 L785.0,538.6 L785.8,540.0 L786.7,538.6 L787.6,536.8 L788.4,536.9 L789.3,537.1 L790.1,538.1 L791.0,535.0 L791.9,535.9 L792.7,532.7 L793.6,532.9 L794.4,534.9 L795.3,533.4 L796.2,534.8 L797.1,537.0 L798.1,536.6 L799.0,537.4 L799.9,539.1 L800.8,540.7 L801.7,541.8 L802.6,543.7 L803.6,545.1 L804.5,546.0 L805.4,546.4 L806.3,548.0 L807.2,548.2 L808.2,548.5 L809.1,550.6 L809.9,551.0 L810.8,549.0 L811.7,550.8 L812.5,550.1 L813.4,550.3 L814.2,552.8 L815.1,553.5 L816.0,552.9 L816.9,552.4 L817.8,550.3 L818.7,551.1 L819.6,549.1 L820.5,548.3 L821.4,547.6 L822.3,548.2 L823.1,550.5 L824.0,551.5 L824.8,550.1 L825.7,549.2 L826.6,551.2 L827.4,550.6 L828.3,549.5 L829.3,548.2 L830.2,547.6 L831.1,545.5 L832.0,543.7 L833.0,544.8 L834.0,543.8 L835.0,546.0 L835.9,549.0 L836.9,549.1 L837.7,550.0 L838.6,550.9 L839.5,552.1 L840.3,552.8 L841.2,553.0 L842.0,553.2 L842.9,555.7 L843.8,556.0 L844.6,557.4 L845.5,556.2 L846.4,559.0 L847.2,560.2 L848.1,559.7 L848.9,562.0 L849.8,561.5 L850.6,562.9 L851.6,562.4 L852.5,559.8 L853.4,560.3 L854.3,558.9 L855.2,558.3 L856.1,559.5 L857.0,560.5 L857.8,559.9 L858.7,560.8 L859.5,562.1 L860.4,562.3 L861.3,561.6 L862.1,562.9 L863.0,562.5 L863.8,560.1 L864.7,559.4 L865.6,556.9 L866.4,558.3 L867.3,557.8 L868.1,556.4 L869.0,556.0 L869.9,555.4 L870.7,557.9 L871.6,556.1 L872.5,556.7 L873.3,558.1 L874.2,557.5 L875.0,558.1 L875.9,558.3 L876.8,557.9 L877.6,557.0 L878.5,556.0 L879.3,556.1 L880.2,554.7 L881.0,555.2 L881.9,553.4 L882.8,553.7 L883.6,551.7 L884.5,551.6 L885.4,551.2 L886.2,552.7 L887.1,550.3 L887.9,550.8 L888.8,549.9 L889.7,549.1 L890.5,548.6 L891.4,548.5 L892.2,548.8 L893.1,549.8 L894.0,548.9 L894.8,547.6 L895.7,549.2 L896.5,546.9 L897.4,546.5 L898.3,544.5 L899.1,543.8 L900.0,541.1 L900.8,541.7 L901.7,543.6 L902.6,543.6 L903.4,546.9 L904.3,547.9 L905.1,548.5 L906.0,548.5 L906.9,549.5 L907.7,548.2 L908.6,550.0 L909.4,548.7 L910.3,549.1 L911.3,548.8 L912.2,550.8 L913.2,551.6 L914.1,553.0 L915.1,552.9 L916.0,553.7 L917.0,555.5 L918.0,555.4 L918.9,558.3 L919.9,561.2 L920.8,561.8 L921.8,562.9 L922.6,563.8 L923.5,565.5 L924.4,564.6 L925.2,564.9 L926.1,567.0 L926.9,566.1 L927.8,566.6 L928.7,567.5 L929.6,565.8 L930.5,568.6 L931.4,568.9 L932.3,569.2 L933.2,569.2 L934.2,570.1 L935.1,568.5 L936.0,569.4 L936.9,569.4 L937.8,570.9 L938.7,569.5 L939.6,569.6 L940.4,572.5 L941.3,570.9 L942.1,571.8 L943.0,571.7 L943.9,570.8 L944.7,570.9 L945.6,571.0 L946.5,571.5 L947.4,571.9 L948.2,570.3 L949.1,571.9 L950.0,570.9 L950.9,571.2 L951.8,569.0 L952.7,570.3 L953.6,570.2 L954.5,568.9 L955.4,569.5 L956.3,569.9 L957.3,570.0 L958.2,570.2 L959.2,568.7 L960.1,568.5 L961.1,568.1 L962.0,569.5 L963.0,568.4 L964.0,567.1 L964.9,567.9 L965.9,569.3 L966.8,572.4 L967.8,571.9 L968.7,572.2 L969.7,573.3 L970.6,574.8 L971.6,575.7 L972.5,577.0 L973.5,575.0 L974.5,577.7 L975.4,574.9 L976.4,577.7 L977.3,576.6 L978.3,575.0 L979.2,576.6 L980.2,575.6 L981.1,577.9 L982.1,577.3 L983.1,577.7 L984.0,578.5 L985.0,577.9 L985.9,579.0 L986.9,578.5 L987.8,579.4 L988.8,578.8 L989.7,578.2 L990.7,577.6 L991.7,577.4 L992.6,576.6 L993.6,575.7 L994.5,577.3 L995.5,575.5 L996.4,575.7 L997.4,576.6" fill="none" stroke="#2a9a3e" stroke-width="3.6" stroke-linejoin="round" stroke-linecap="round"/>
<path d="M134.0,528.5 L134.9,528.8 L135.9,529.6 L136.8,530.6 L137.7,531.1 L138.6,530.8 L139.6,530.3 L140.5,531.8 L141.5,531.0 L142.4,533.1 L143.4,533.5 L144.3,534.2 L145.3,533.8 L146.2,534.6 L147.1,533.2 L148.0,535.2 L148.9,536.5 L149.8,537.2 L150.8,535.7 L151.7,534.3 L152.6,534.2 L153.5,534.2 L154.4,536.0 L155.2,536.5 L156.1,535.6 L157.0,536.5 L157.9,537.0 L158.8,540.0 L159.7,540.5 L160.6,540.6 L161.5,543.4 L162.4,544.5 L163.3,543.8 L164.1,543.0 L165.0,543.4 L165.9,545.2 L166.8,544.8 L167.7,546.6 L168.7,545.2 L169.6,545.7 L170.5,545.1 L171.4,546.5 L172.3,545.0 L173.2,542.6 L174.2,541.1 L175.1,539.1 L176.1,539.2 L177.0,536.4 L178.0,535.2 L178.9,535.5 L179.9,534.2 L180.8,531.7 L181.8,531.3 L182.8,528.5 L183.7,528.4 L184.7,528.4 L185.6,527.3 L186.5,528.4 L187.5,529.0 L188.4,528.3 L189.3,528.3 L190.2,529.6 L191.1,528.7 L192.0,525.2 L193.0,523.5 L193.9,522.8 L194.8,523.9 L195.6,525.0 L196.5,524.4 L197.4,523.8 L198.2,522.7 L199.1,524.2 L199.9,525.1 L200.8,525.6 L201.7,529.6 L202.6,527.3 L203.5,526.7 L204.4,526.1 L205.3,524.8 L206.2,525.0 L207.2,523.8 L208.1,522.8 L209.0,524.2 L209.9,523.5 L210.8,523.9 L211.7,522.7 L212.5,521.6 L213.4,521.3 L214.2,523.2 L215.1,522.6 L215.9,521.1 L216.8,519.2 L217.6,519.2 L218.5,519.7 L219.3,520.6 L220.2,518.8 L221.1,515.2 L222.1,513.7 L223.1,511.9 L224.0,509.9 L224.9,509.5 L225.7,508.8 L226.6,507.2 L227.4,507.5 L228.3,506.3 L229.1,504.8 L230.1,507.7 L231.0,511.8 L232.0,516.8 L232.9,518.8 L233.8,522.8 L234.6,529.1 L235.5,534.1 L236.4,529.8 L237.4,524.7 L238.3,517.6 L239.3,513.7 L240.3,516.6 L241.2,521.3 L242.2,524.7 L243.1,529.0 L244.1,525.0 L245.0,518.4 L246.0,515.1 L246.9,509.9 L247.9,515.3 L248.8,519.8 L249.8,522.3 L250.8,527.7 L251.7,529.5 L252.7,529.4 L253.6,534.0 L254.6,532.8 L255.5,531.8 L256.5,529.8 L257.5,527.7 L258.4,526.4 L259.3,527.7 L260.1,525.7 L261.0,524.3 L261.8,522.4 L262.7,523.5 L263.5,521.3 L264.4,520.5 L265.2,522.3 L266.1,520.2 L266.9,520.0 L267.8,519.7 L268.6,517.5 L269.4,514.5 L270.3,514.2 L271.1,512.6 L272.0,508.9 L272.8,508.7 L273.7,506.1 L274.5,505.3 L275.4,504.7 L276.2,503.1 L277.1,504.2 L277.9,506.0 L278.8,504.8 L279.6,505.5 L280.5,502.3 L281.3,501.3 L282.2,502.9 L283.0,500.0 L283.9,499.7 L284.8,499.4 L285.8,503.8 L286.8,503.9 L287.7,506.1 L288.7,507.1 L289.6,509.4 L290.6,514.4 L291.5,515.0 L292.4,515.0 L293.2,509.8 L294.1,509.4 L294.9,508.1 L295.8,505.7 L296.6,503.5 L297.5,501.4 L298.3,502.3 L299.2,499.7 L300.0,502.9 L300.9,505.1 L301.7,508.6 L302.6,509.6 L303.6,508.4 L304.5,507.8 L305.4,507.1 L306.2,506.0 L307.1,503.5 L308.0,502.2 L308.9,503.1 L309.8,503.8 L310.7,503.0 L311.6,503.8 L312.5,507.2 L313.4,504.7 L314.3,504.9 L315.2,507.9 L316.0,507.4 L316.9,508.0 L317.8,510.2 L318.7,510.8 L319.6,510.3 L320.5,509.1 L321.4,509.4 L322.3,509.4 L323.2,508.4 L324.1,507.4 L325.0,507.0 L325.8,504.1 L326.7,506.6 L327.6,512.7 L328.5,517.3 L329.4,526.3 L330.3,529.5 L331.2,534.6 L332.1,537.0 L332.8,538.3 L333.4,540.1 L334.3,545.2 L335.2,546.5 L336.0,549.6 L336.9,551.5 L337.7,547.0 L338.6,543.5 L339.4,535.7 L340.3,532.1 L341.1,530.2 L341.8,530.7 L342.6,527.5 L343.4,535.1 L344.1,541.1 L344.9,548.1 L345.7,550.8 L346.4,551.4 L347.2,556.1 L348.1,549.2 L349.1,542.8 L350.1,537.8 L351.0,540.4 L352.0,541.1 L352.9,543.5 L353.7,547.3 L354.4,546.7 L355.2,550.4 L356.0,555.6 L356.7,560.6 L357.5,564.2 L358.3,570.6 L359.0,574.9 L359.8,580.2 L360.6,578.8 L361.3,573.4 L362.1,569.9 L362.8,571.4 L363.6,570.2 L364.4,568.7 L365.2,566.2 L366.1,564.7 L366.9,562.3 L367.8,559.6 L368.6,558.9 L369.3,557.4 L370.1,553.9 L371.0,551.7 L371.8,553.5 L372.7,553.1 L373.5,550.4 L374.5,548.6 L375.4,546.4 L376.3,545.6 L377.2,545.3 L378.1,543.5 L379.1,542.4 L380.0,540.6 L381.0,539.3 L381.9,541.1 L382.9,539.0 L383.9,537.8 L384.8,537.9 L385.8,536.4 L386.7,536.8 L387.7,534.2 L388.6,531.8 L389.6,532.1 L390.5,531.7 L391.5,529.9 L392.4,526.4 L393.4,529.4 L394.3,525.8 L395.3,525.2 L396.2,525.1 L397.2,519.7 L398.1,520.1 L399.1,518.7 L400.0,517.2 L400.9,517.2 L401.7,515.2 L402.6,513.9 L403.4,515.3 L404.3,512.6 L405.2,510.6 L406.0,513.2 L406.9,511.5 L407.8,508.6 L408.6,508.2 L409.5,508.5 L410.3,510.7 L411.2,511.9 L412.1,514.7 L412.9,517.0 L413.8,519.4 L414.7,520.2 L415.5,521.0 L416.4,519.4 L417.3,520.5 L418.1,521.5 L419.0,520.9 L419.9,519.6 L420.7,519.4 L421.6,519.5 L422.5,519.4 L423.4,515.9 L424.3,514.1 L425.3,515.8 L426.2,513.9 L427.1,512.6 L428.0,510.4 L429.0,508.5 L429.9,507.7 L430.8,505.7 L431.7,505.5 L432.7,504.6 L433.6,505.1 L434.5,502.0 L435.4,502.0 L436.4,501.5 L437.3,502.0 L438.3,500.8 L439.2,500.0 L440.2,500.7 L441.1,497.8 L442.1,497.8 L443.0,495.5 L443.9,497.9 L444.8,496.6 L445.7,498.2 L446.6,496.4 L447.5,497.3 L448.4,499.9 L449.5,505.2 L450.6,510.7 L451.5,510.9 L452.3,508.7 L453.2,506.1 L454.1,504.8 L454.9,504.2 L455.9,503.8 L456.8,501.2 L457.7,504.3 L458.6,500.3 L459.6,501.5 L460.5,500.4 L461.4,499.9 L462.3,502.6 L463.2,503.5 L464.0,507.1 L464.9,505.3 L465.8,508.5 L466.6,506.9 L467.5,504.4 L468.4,502.7 L469.2,503.1 L470.1,499.9 L471.0,499.9 L471.8,502.3 L472.7,503.9 L473.6,507.5 L474.4,508.5 L475.3,506.2 L476.3,505.9 L477.2,504.4 L478.1,503.7 L479.1,503.3 L480.0,502.7 L480.9,499.9 L481.8,501.6 L482.7,499.6 L483.6,497.0 L484.5,497.3 L485.5,497.2 L486.4,497.5 L487.3,495.0 L488.2,496.8 L489.1,493.9 L490.0,493.4 L490.7,492.4 L491.5,489.6 L492.3,490.8 L493.2,487.8 L494.1,489.3 L495.0,487.9 L495.9,489.0 L496.7,489.7 L497.6,488.3 L498.5,488.0 L499.4,487.9 L500.3,487.1 L501.2,486.9 L502.0,484.7 L502.9,485.0 L503.8,484.8 L504.8,484.5 L505.7,484.2 L506.6,481.1 L507.5,479.6 L508.4,479.0 L509.3,477.4 L510.3,477.5 L511.2,477.7 L512.1,475.9 L513.0,474.8 L513.9,474.7 L514.8,473.5 L515.8,474.6 L516.7,473.6 L517.5,475.5 L518.4,475.1 L519.3,473.2 L520.1,475.9 L521.1,473.5 L522.0,469.0 L523.0,466.8 L523.9,463.9 L524.9,461.1 L525.9,457.5 L526.6,461.8 L527.4,463.9 L528.1,469.0 L529.2,471.2 L529.6,502.9 L530.4,509.5 L531.1,519.8 L531.9,531.3 L532.6,540.9 L533.4,551.9 L534.2,562.5 L534.9,571.8 L535.7,577.7 L536.5,584.0 L537.2,586.7 L538.0,588.9 L538.8,591.7 L539.5,583.4 L540.3,579.4 L541.1,568.7 L541.8,559.5 L542.6,555.2 L543.4,553.4 L544.1,550.4 L545.1,545.5 L546.0,541.7 L547.0,536.4 L547.9,532.0 L548.9,532.1 L549.8,529.4 L550.7,530.4 L551.6,528.8 L552.5,527.4 L553.4,528.4 L554.4,526.8 L555.3,526.8 L556.2,524.1 L557.1,524.4 L558.0,523.6 L559.0,523.6 L559.9,522.6 L560.8,520.7 L561.7,521.3 L562.6,520.4 L563.5,516.9 L564.5,514.4 L565.4,516.8 L566.3,513.6 L567.2,513.5 L568.1,513.5 L569.1,513.5 L570.0,515.8 L570.9,516.7 L571.9,515.9 L572.9,514.8 L574.0,512.1 L574.9,514.4 L575.8,512.1 L576.7,511.0 L577.6,512.2 L578.5,510.6 L579.6,507.6 L580.6,507.0 L581.6,504.5 L582.6,504.0 L583.6,505.4 L584.7,506.0 L585.6,506.4 L586.5,508.7 L587.4,508.1 L588.3,509.3 L589.2,510.6 L590.3,511.9 L591.3,512.2 L592.3,513.6 L593.2,511.9 L594.1,512.2 L595.1,511.6 L596.0,511.0 L596.9,509.1 L597.8,508.4 L598.7,507.1 L599.6,505.8 L600.6,505.8 L601.5,502.9 L602.4,502.7 L603.2,506.2 L604.1,505.9 L605.0,507.5 L605.8,507.5 L606.7,506.7 L607.5,510.2 L608.3,508.9 L609.2,511.0 L610.0,509.2 L610.7,510.7 L611.5,512.4 L612.4,510.5 L613.3,508.2 L614.2,504.7 L615.1,503.5 L616.1,501.0 L616.9,498.8 L617.8,497.7 L618.6,497.6 L619.5,496.4 L620.4,496.3 L621.2,497.7 L622.1,498.7 L622.9,501.0 L623.8,503.6 L624.7,508.0 L625.5,512.3 L626.4,514.7 L627.2,510.2 L627.9,505.1 L628.7,501.0 L629.6,501.3 L630.6,500.2 L631.5,498.0 L632.5,498.5 L633.5,497.0 L634.4,496.4 L635.3,495.7 L636.1,495.5 L637.0,496.3 L637.9,495.2 L638.7,492.8 L639.6,491.8 L640.4,490.9 L641.3,491.8 L642.2,490.8 L643.0,489.9 L643.9,487.8 L644.7,490.6 L645.6,488.6 L646.5,487.2 L647.3,486.7 L648.2,487.2 L649.1,485.2 L650.0,485.2 L650.9,483.7 L651.9,482.2 L652.8,482.6 L653.6,482.1 L654.5,479.2 L655.4,478.1 L656.2,475.7 L657.1,476.0 L657.9,473.7 L658.8,473.7 L659.7,471.1 L660.5,471.5 L661.4,473.6 L662.2,476.4 L663.1,475.7 L663.9,471.7 L664.6,469.8 L665.4,464.2 L666.2,461.0 L667.1,458.3 L668.0,456.5 L668.8,455.1 L669.7,458.7 L670.6,459.2 L671.4,461.3 L672.3,464.2 L673.0,467.5 L673.8,469.9 L674.6,475.7 L675.3,476.8 L676.1,476.3 L676.9,478.0 L677.6,475.5 L678.4,474.1 L679.2,471.1 L680.1,470.4 L681.0,472.3 L681.9,471.5 L682.8,474.2 L683.8,473.4 L684.7,471.0 L685.6,468.1 L686.5,468.5 L687.4,466.8 L688.3,466.5 L689.2,464.8 L690.1,463.5 L690.9,462.2 L691.8,461.9 L692.7,462.1 L693.6,463.8 L694.5,463.0 L695.5,463.6 L696.4,464.2 L697.2,465.8 L698.1,465.6 L698.9,467.1 L699.8,466.5 L700.6,470.5 L701.3,472.5 L702.1,475.7 L703.0,473.5 L703.8,472.2 L704.7,471.9 L705.5,468.8 L706.5,468.7 L707.4,466.5 L708.3,464.8 L709.2,463.9 L710.1,461.9 L711.0,460.8 L712.0,462.8 L712.9,459.0 L713.8,459.4 L714.7,457.4 L715.6,456.8 L716.5,456.6 L717.4,454.9 L718.2,456.1 L719.1,454.9 L720.0,452.8 L720.8,452.5 L721.7,450.6 L722.5,450.9 L723.3,448.0 L724.2,447.4 L725.1,451.2 L726.0,452.7 L726.9,453.2 L727.9,454.1 L728.8,456.5 L729.5,452.4 L730.3,447.7 L731.1,442.8 L731.9,442.9 L732.8,440.6 L733.6,439.6 L734.5,437.5 L735.4,439.0 L736.2,438.5 L737.1,437.3 L737.9,435.9 L738.9,434.2 L739.8,434.4 L740.7,433.4 L741.6,433.4 L742.5,433.6 L743.4,433.7 L744.4,433.2 L745.3,431.5 L746.2,427.0 L747.1,426.7 L748.0,427.0 L749.0,429.1 L749.9,429.1 L750.8,429.6 L751.7,431.3 L752.6,431.4 L753.5,433.0 L754.5,434.9 L755.4,431.6 L756.3,433.6 L757.2,436.5 L758.0,441.8 L758.9,445.8 L759.7,449.7 L760.6,445.4 L761.5,441.6 L762.3,438.0 L763.2,433.6 L764.1,432.0 L765.0,431.1 L765.9,428.7 L766.9,430.0 L767.8,426.7 L768.7,423.9 L769.6,420.3 L770.5,421.9 L771.4,419.7 L772.4,417.5 L773.3,417.4 L774.2,415.4 L775.1,413.8 L776.0,412.8 L777.0,410.6 L777.8,411.8 L778.7,413.2 L779.5,415.6 L780.4,417.5 L781.2,423.1 L782.1,424.4 L783.0,427.8 L783.8,431.3 L784.7,430.4 L785.6,427.3 L786.4,423.1 L787.3,422.1 L788.1,425.0 L789.0,424.8 L789.9,426.9 L790.7,424.4 L791.6,423.4 L792.6,420.6 L793.5,416.5 L794.4,413.2 L795.3,412.9 L796.2,415.2 L797.0,420.6 L797.9,423.8 L798.8,426.7 L799.6,429.6 L800.5,430.2 L801.3,435.1 L802.2,435.9 L803.0,439.1 L803.7,444.9 L804.5,447.4 L805.3,445.0 L806.2,444.1 L807.1,443.2 L807.9,442.8 L808.8,442.2 L809.6,445.5 L810.5,445.6 L811.4,447.4 L812.3,449.5 L813.2,452.9 L814.1,454.4 L815.0,454.4 L816.0,456.5 L816.9,454.0 L817.8,447.7 L818.7,443.5 L819.6,439.4 L820.5,435.9 L821.4,437.3 L822.3,440.1 L823.1,441.5 L824.0,442.8 L824.9,440.8 L825.7,433.9 L826.6,432.7 L827.4,426.7 L828.3,426.0 L829.3,424.5 L830.2,425.3 L831.1,422.6 L832.0,422.1 L833.0,420.7 L834.0,416.1 L835.0,412.9 L835.9,415.0 L836.9,414.9 L837.8,416.9 L838.7,415.1 L839.6,417.9 L840.6,418.6 L841.5,418.4 L842.3,421.3 L843.2,423.8 L844.0,427.6 L844.9,427.5 L845.8,428.3 L846.6,431.5 L847.5,436.9 L848.4,436.7 L849.2,438.0 L850.1,436.6 L850.9,436.5 L851.8,436.7 L852.7,434.9 L853.5,431.4 L854.4,430.8 L855.2,429.8 L856.1,430.4 L857.0,434.7 L857.8,435.9 L858.7,439.0 L859.5,444.7 L860.4,447.7 L861.3,449.6 L862.1,452.8 L863.0,456.2 L864.0,455.5 L864.9,455.0 L865.8,458.0 L866.7,457.4 L867.6,455.1 L868.5,453.8 L869.5,453.0 L870.4,450.2 L871.3,450.5 L872.2,450.2 L873.1,449.3 L874.1,447.0 L875.0,446.4 L875.9,443.6 L876.8,440.6 L877.7,442.2 L878.6,443.1 L879.6,441.4 L880.5,439.0 L881.4,436.3 L882.3,435.3 L883.2,430.3 L884.2,429.1 L885.1,427.5 L885.9,428.9 L886.8,430.1 L887.6,430.5 L888.5,432.1 L889.3,434.6 L890.0,437.6 L890.8,441.3 L891.8,443.3 L892.7,441.6 L893.7,444.0 L894.6,442.9 L895.6,443.7 L896.5,443.6 L897.5,444.3 L898.4,445.5 L899.3,446.4 L900.2,445.4 L901.1,445.9 L902.0,446.0 L903.0,447.7 L903.9,447.7 L904.8,447.7 L905.7,448.2 L906.6,445.9 L907.6,447.1 L908.5,447.7 L909.4,447.3 L910.3,445.9 L911.3,448.0 L912.2,447.7 L913.2,447.4 L914.1,447.7 L915.1,451.4 L916.0,450.5 L917.0,451.4 L917.9,451.6 L918.8,453.2 L919.7,453.4 L920.6,455.1 L921.6,455.5 L922.5,455.7 L923.5,456.8 L924.5,457.4 L925.4,458.1 L926.4,457.4 L927.3,459.8 L928.2,458.1 L929.1,460.6 L930.0,462.2 L931.0,461.9 L931.9,465.4 L932.8,464.3 L933.7,466.2 L934.6,466.1 L935.5,468.8 L936.5,466.8 L937.4,466.4 L938.3,465.6 L939.2,463.2 L940.1,461.9 L941.0,462.5 L942.0,462.4 L942.9,464.7 L943.8,464.5 L944.7,464.2 L945.6,463.7 L946.5,466.1 L947.4,468.0 L948.2,468.0 L949.1,467.0 L950.0,468.8 L950.8,467.7 L951.5,462.9 L952.5,463.6 L953.4,459.3 L954.4,460.8 L955.4,461.0 L956.3,463.1 L957.3,462.8 L958.2,464.8 L959.2,465.3 L960.1,465.9 L961.1,465.7 L962.0,466.8 L963.0,469.7 L963.9,470.4 L964.9,472.5 L965.9,473.1 L966.8,475.9 L967.8,479.2 L968.7,480.1 L969.7,478.5 L970.6,476.6 L971.6,475.9 L972.5,476.7 L973.5,474.4 L974.5,472.9 L975.4,474.6 L976.4,471.3 L977.3,470.3 L978.3,469.5 L979.2,471.5 L980.2,472.3 L981.1,473.3 L982.1,473.1 L983.1,474.4 L984.0,475.4 L985.0,477.8 L985.9,478.2 L986.9,475.3 L987.8,477.1 L988.8,474.3 L989.7,472.7 L990.7,472.5 L991.7,472.5 L992.6,473.6 L993.6,473.0 L994.5,474.4 L995.5,475.2 L996.4,476.3 L997.4,478.2" fill="none" stroke="#1c92b2" stroke-width="4.0" stroke-linejoin="round" stroke-linecap="round"/>
<path d="M134.0,527.9 L134.9,528.8 L135.7,528.7 L136.6,528.7 L137.5,526.2 L138.3,526.2 L139.2,527.2 L140.0,528.4 L140.9,531.9 L141.8,530.1 L142.6,531.6 L143.5,529.5 L144.3,528.5 L145.2,530.9 L146.1,534.5 L146.9,536.8 L147.8,538.8 L148.7,542.0 L149.7,537.6 L150.7,538.8 L151.5,536.1 L152.4,530.4 L153.2,529.5 L154.1,527.3 L155.1,528.2 L156.1,530.9 L157.1,529.1 L158.1,531.9 L158.9,529.9 L159.6,529.1 L160.4,528.5 L161.2,533.2 L162.1,531.1 L163.0,535.6 L163.8,537.6 L164.7,537.9 L165.7,534.5 L166.6,534.5 L167.5,531.9 L168.4,530.8 L169.2,533.6 L169.9,536.9 L170.7,537.6 L171.6,536.1 L172.4,533.0 L173.3,530.2 L174.2,529.6 L175.0,529.2 L175.9,528.0 L176.7,524.7 L177.6,523.9 L178.5,524.1 L179.4,520.9 L180.3,519.5 L181.3,522.1 L182.2,520.5 L182.9,519.9 L183.7,514.4 L184.5,512.4 L185.4,512.1 L186.3,510.1 L187.2,511.6 L188.1,510.3 L189.1,510.1 L189.9,510.6 L190.8,508.4 L191.6,509.1 L192.5,506.7 L193.3,503.4 L194.0,502.3 L194.8,498.7 L195.7,495.6 L196.7,497.6 L197.7,495.8 L198.5,499.6 L199.4,505.6 L200.2,506.4 L201.1,511.3 L202.1,508.5 L203.0,504.5 L204.0,501.0 L204.9,503.0 L205.8,503.5 L206.7,508.9 L207.6,511.3 L208.6,512.4 L209.6,509.8 L210.6,508.7 L211.6,505.6 L212.6,501.0 L213.4,503.2 L214.2,500.7 L215.1,504.9 L215.9,502.9 L216.8,506.0 L217.6,504.8 L218.6,500.6 L219.6,495.5 L220.5,493.3 L221.5,490.8 L222.3,492.1 L223.2,489.1 L224.0,492.0 L225.0,490.8 L225.9,489.2 L226.9,486.7 L227.8,485.7 L228.6,488.8 L229.4,484.8 L230.2,488.6 L231.0,488.2 L232.0,495.2 L232.9,503.1 L233.9,507.9 L234.8,515.0 L235.7,510.3 L236.5,505.8 L237.4,503.5 L238.2,499.9 L239.0,496.4 L239.8,492.9 L240.6,488.2 L241.4,490.1 L242.3,495.5 L243.1,498.4 L244.1,493.3 L245.0,490.2 L246.0,485.1 L246.9,480.6 L247.7,482.5 L248.5,480.6 L249.3,485.5 L250.1,484.4 L250.9,488.1 L251.7,495.1 L252.5,497.1 L253.3,503.5 L254.2,503.6 L255.0,509.6 L255.9,509.9 L256.8,506.1 L257.8,502.6 L258.7,497.5 L259.7,495.9 L260.6,497.5 L261.6,498.0 L262.5,499.6 L263.5,501.0 L264.4,499.5 L265.2,497.8 L266.1,492.7 L266.9,489.2 L267.8,484.9 L268.6,480.6 L269.6,482.0 L270.5,481.1 L271.5,477.8 L272.4,478.0 L273.4,478.5 L274.3,479.0 L275.3,483.4 L276.2,484.4 L277.2,482.3 L278.1,480.1 L279.1,479.5 L280.1,474.2 L280.9,471.6 L281.8,472.9 L282.6,468.7 L283.5,470.5 L284.3,471.0 L285.2,467.8 L286.1,472.7 L287.1,476.3 L288.0,477.3 L289.0,483.1 L289.9,483.0 L290.9,477.1 L291.8,476.8 L292.8,475.5 L293.6,472.0 L294.5,470.1 L295.4,469.3 L296.2,467.1 L297.0,463.9 L297.9,461.5 L298.8,462.7 L299.6,460.7 L300.4,460.2 L301.8,474.6 L302.7,475.1 L303.6,473.3 L304.5,469.3 L305.4,469.2 L306.2,472.5 L307.1,472.9 L308.0,475.9 L308.9,476.4 L309.8,474.5 L310.7,472.7 L311.6,473.7 L312.5,473.3 L313.4,469.4 L314.3,469.2 L315.2,471.6 L316.0,470.5 L316.9,469.9 L317.8,472.8 L318.7,471.4 L319.6,470.9 L320.5,467.9 L321.4,468.5 L322.3,466.8 L323.2,465.6 L324.1,463.9 L325.0,464.1 L325.8,461.9 L326.7,460.3 L327.6,465.8 L328.5,470.9 L329.4,481.7 L330.3,492.8 L331.2,501.3 L332.1,498.5 L333.0,496.1 L333.9,492.4 L334.8,497.4 L335.6,503.1 L336.5,505.9 L337.4,509.7 L338.3,513.8 L339.2,509.1 L340.1,500.9 L341.0,496.4 L341.9,490.6 L342.8,500.4 L343.7,509.3 L344.6,517.2 L345.4,524.5 L346.3,518.6 L347.2,513.4 L348.1,504.1 L349.0,500.0 L349.9,495.2 L350.8,488.8 L351.7,494.2 L352.6,501.9 L353.5,504.9 L354.4,508.3 L355.3,509.3 L356.2,510.9 L357.0,513.8 L357.9,521.0 L358.8,529.2 L359.7,534.1 L360.6,544.1 L361.5,540.9 L362.4,538.0 L363.3,532.0 L364.2,529.8 L365.1,527.0 L366.0,520.8 L366.8,518.7 L367.7,517.3 L368.6,510.7 L369.5,509.4 L370.4,503.2 L371.3,501.3 L372.2,497.9 L373.1,494.1 L374.0,491.9 L374.9,490.6 L375.8,486.0 L376.6,483.8 L377.5,481.1 L378.4,478.1 L379.3,477.9 L380.2,474.7 L381.1,473.2 L382.0,474.6 L382.9,474.8 L383.8,473.2 L384.7,474.2 L385.6,470.0 L386.4,469.0 L387.3,469.2 L388.2,468.9 L389.1,467.9 L390.0,465.9 L390.9,462.1 L391.7,464.6 L392.5,464.5 L393.2,460.9 L394.1,459.0 L394.9,455.9 L395.7,458.1 L396.5,456.6 L397.3,456.6 L398.1,455.9 L398.9,453.8 L399.7,452.2 L400.6,452.7 L401.5,453.8 L402.4,451.6 L403.3,447.9 L404.2,448.4 L405.1,445.8 L406.0,442.1 L406.9,440.2 L407.7,436.9 L408.6,436.4 L409.5,432.8 L410.3,433.6 L411.1,432.8 L411.9,434.4 L412.7,434.9 L413.5,440.8 L414.4,444.8 L415.2,446.5 L416.0,452.2 L416.8,453.8 L417.6,453.1 L418.4,456.1 L419.2,456.6 L420.1,457.3 L421.0,460.0 L421.8,465.4 L422.7,464.1 L423.6,467.4 L424.4,463.8 L425.2,459.7 L426.0,458.1 L426.8,452.2 L427.6,450.6 L428.4,445.2 L429.2,444.1 L430.0,441.4 L430.9,444.1 L431.7,442.9 L432.5,445.1 L433.3,445.8 L434.1,441.1 L434.9,440.0 L435.7,433.8 L436.5,430.6 L437.4,431.5 L438.3,429.8 L439.2,428.5 L440.1,425.7 L441.0,424.9 L441.9,424.1 L443.0,420.2 L444.1,413.3 L445.0,415.6 L445.8,417.7 L446.7,419.8 L447.6,430.6 L448.6,438.0 L449.5,445.8 L450.3,444.4 L451.1,441.1 L452.0,442.1 L452.8,439.3 L453.6,435.2 L454.5,435.4 L455.4,434.6 L456.2,435.1 L457.1,432.8 L458.0,429.7 L458.8,428.9 L459.7,426.3 L460.6,422.9 L461.4,419.8 L462.3,418.4 L463.2,417.0 L464.0,420.2 L464.9,423.0 L465.8,421.9 L466.7,425.5 L467.6,427.4 L468.5,429.8 L469.4,430.6 L470.3,433.6 L471.2,434.9 L472.0,433.4 L472.8,430.3 L473.6,428.8 L474.4,424.1 L475.3,425.5 L476.1,422.7 L477.0,427.9 L477.9,427.2 L478.7,426.3 L479.6,424.4 L480.5,421.7 L481.3,419.5 L482.2,416.6 L483.1,417.6 L483.4,416.3 L484.3,414.0 L485.2,414.2 L486.0,412.0 L486.9,409.4 L487.8,408.6 L488.7,405.0 L489.6,405.0 L490.5,403.0 L491.5,400.2 L492.3,404.2 L493.2,404.6 L494.0,407.0 L494.9,411.7 L495.8,408.7 L496.6,407.5 L497.5,401.7 L498.3,400.2 L499.3,399.5 L500.2,395.6 L501.1,393.0 L502.0,390.9 L502.9,388.8 L503.8,389.4 L504.8,390.3 L505.7,392.0 L506.6,393.8 L507.5,395.6 L508.4,390.5 L509.2,385.3 L510.1,380.1 L510.9,377.3 L511.9,375.5 L512.8,373.5 L513.7,370.5 L514.6,369.0 L515.5,365.9 L516.4,370.0 L517.2,371.2 L518.1,376.0 L519.0,377.3 L519.7,370.3 L520.5,364.6 L521.3,359.0 L522.1,350.8 L523.0,346.9 L523.8,342.7 L524.7,338.3 L525.5,337.6 L526.2,334.1 L527.0,336.1 L528.1,347.5 L528.9,367.3 L529.7,389.4 L530.4,411.7 L531.3,420.1 L532.1,429.6 L533.0,439.6 L533.9,446.1 L534.8,440.4 L535.5,457.5 L536.2,476.8 L536.9,499.3 L537.6,524.4 L538.6,523.2 L539.5,521.5 L540.5,476.7 L541.6,485.0 L542.6,492.9 L543.6,483.1 L544.6,470.6 L545.6,460.9 L546.7,452.2 L547.5,450.4 L548.3,448.0 L549.1,446.3 L549.9,443.5 L550.7,440.0 L551.5,437.0 L552.3,429.5 L553.1,427.1 L553.9,423.3 L555.2,436.0 L556.1,424.5 L556.9,413.0 L557.8,402.9 L558.6,405.2 L559.5,409.5 L560.3,410.5 L561.2,402.8 L562.0,400.4 L562.9,395.2 L563.8,395.9 L564.8,392.7 L565.7,392.2 L566.7,392.6 L567.5,390.7 L568.4,385.8 L569.2,385.0 L570.5,397.8 L571.4,391.8 L572.2,382.7 L573.1,374.8 L574.0,372.5 L575.0,370.7 L575.9,369.3 L576.9,367.1 L578.2,377.4 L579.0,364.7 L579.9,359.3 L580.7,349.3 L581.7,345.2 L582.8,339.1 L583.8,347.1 L584.8,354.5 L585.8,362.0 L587.1,341.6 L588.0,353.9 L588.9,364.6 L589.7,356.5 L590.5,352.5 L591.4,342.8 L592.2,339.1 L593.0,342.2 L593.9,345.2 L594.7,349.3 L595.7,346.5 L596.7,341.0 L597.6,336.3 L598.6,334.0 L599.4,327.3 L600.3,319.8 L601.1,316.1 L602.0,312.2 L602.8,306.6 L603.7,300.8 L604.5,312.4 L605.4,325.8 L606.2,336.5 L607.2,343.9 L608.3,349.3 L609.1,344.0 L610.0,341.0 L610.9,338.3 L611.7,335.8 L612.6,334.0 L613.9,316.1 L614.7,311.4 L615.6,305.5 L616.4,298.3 L617.4,292.1 L618.5,285.6 L619.5,277.9 L620.3,281.9 L621.1,280.8 L622.0,286.0 L622.8,288.1 L623.6,298.8 L624.5,306.6 L625.3,318.9 L626.1,326.3 L627.1,310.8 L628.2,299.1 L629.2,285.5 L630.0,291.4 L630.9,298.2 L631.7,303.4 L632.7,298.3 L633.6,293.6 L634.6,288.5 L635.6,283.0 L636.4,278.8 L637.3,275.1 L638.1,270.2 L639.1,268.2 L640.0,265.1 L641.0,262.6 L641.9,262.6 L643.2,259.9 L644.1,254.4 L644.9,247.2 L645.7,244.6 L646.5,238.2 L647.6,237.7 L648.7,240.4 L649.5,247.2 L650.3,249.0 L651.1,254.3 L651.9,257.7 L653.0,245.7 L654.1,233.9 L655.2,230.9 L656.2,225.2 L657.3,219.9 L658.4,214.4 L659.5,214.5 L660.6,214.4 L661.4,230.4 L662.3,241.5 L663.0,227.3 L663.8,212.2 L664.9,197.9 L666.0,181.9 L667.1,173.9 L668.1,165.7 L669.2,173.3 L670.3,175.4 L671.4,189.5 L672.5,205.8 L673.3,219.1 L674.2,229.6 L675.0,243.5 L675.7,259.9 L676.8,243.1 L677.9,227.4 L679.0,225.6 L680.0,223.1 L681.1,232.2 L682.2,242.6 L683.3,251.2 L684.4,262.0 L685.5,243.3 L686.5,223.1 L687.3,219.5 L688.2,219.8 L689.0,219.1 L689.8,216.6 L690.6,216.6 L691.4,219.0 L692.2,219.9 L693.0,220.9 L694.1,224.7 L695.2,227.4 L696.0,217.6 L696.7,211.2 L697.6,213.0 L698.4,220.9 L699.5,231.8 L700.6,244.7 L701.7,257.6 L702.8,270.7 L703.9,271.8 L704.9,270.7 L705.8,264.7 L706.6,255.2 L707.4,249.2 L708.2,240.4 L709.0,240.7 L709.8,237.4 L710.6,235.5 L711.4,236.1 L712.2,233.8 L713.1,230.9 L713.9,228.3 L714.7,227.4 L715.5,224.0 L716.3,223.8 L717.1,224.0 L717.9,223.1 L718.7,220.7 L719.5,218.0 L720.4,217.1 L721.2,212.2 L722.0,209.2 L722.8,206.6 L723.6,205.5 L724.4,203.6 L725.5,205.0 L726.6,207.9 L727.7,216.3 L728.7,223.1 L729.8,209.7 L730.9,199.3 L731.7,201.9 L732.5,200.4 L733.3,202.7 L734.2,203.6 L735.0,200.9 L735.8,197.8 L736.6,193.6 L737.4,190.6 L738.3,193.7 L739.1,195.0 L740.0,194.9 L740.7,201.7 L741.6,195.8 L742.5,195.2 L743.3,187.9 L744.2,183.4 L744.9,180.2 L745.7,178.2 L746.5,176.5 L747.3,177.0 L748.2,180.4 L749.0,179.9 L749.9,181.1 L750.8,184.9 L751.6,183.5 L752.5,186.2 L753.4,188.0 L754.5,183.4 L755.3,185.7 L756.0,187.3 L756.8,192.6 L757.9,206.3 L758.9,212.6 L759.8,215.5 L760.7,212.1 L761.6,210.0 L762.5,206.3 L763.3,198.6 L764.1,192.1 L764.8,183.4 L765.7,182.1 L766.5,176.4 L767.4,177.5 L768.3,173.1 L769.0,171.2 L769.8,168.6 L770.5,167.3 L771.7,151.3 L772.6,147.2 L773.4,147.8 L774.3,147.1 L775.1,146.7 L775.9,140.9 L776.7,135.2 L777.4,132.9 L778.2,139.5 L779.0,146.8 L779.7,151.3 L780.5,155.8 L781.3,160.4 L782.0,165.1 L782.8,174.1 L783.6,183.4 L784.5,172.9 L785.5,162.8 L786.2,172.3 L787.0,175.5 L787.8,183.4 L788.5,185.4 L789.3,187.3 L790.0,190.3 L790.8,181.1 L791.6,168.1 L792.3,160.5 L793.2,162.0 L794.1,161.9 L794.9,160.2 L795.8,162.8 L796.6,174.7 L797.4,188.0 L798.3,195.1 L799.2,201.7 L800.0,205.3 L800.7,208.3 L801.5,213.2 L802.3,224.0 L803.0,235.0 L803.8,247.6 L804.7,245.2 L805.5,236.9 L806.4,232.7 L807.2,227.0 L808.0,231.3 L808.8,236.4 L809.5,240.7 L810.4,240.8 L811.3,241.7 L812.1,240.1 L813.0,240.7 L813.7,250.8 L814.5,257.6 L815.3,266.0 L816.0,259.4 L816.8,254.6 L817.6,247.6 L818.4,251.1 L819.3,256.4 L820.1,260.1 L821.0,266.0 L821.9,260.1 L822.7,253.9 L823.6,245.5 L824.5,238.4 L825.3,235.1 L826.2,230.0 L827.0,226.2 L827.9,220.1 L828.8,219.1 L829.6,215.6 L830.5,217.3 L831.3,217.8 L832.2,219.0 L833.2,219.5 L834.1,221.3 L835.0,222.4 L836.1,221.7 L837.1,216.8 L838.0,222.5 L838.9,229.2 L839.8,233.4 L840.7,236.4 L841.6,233.6 L842.5,231.7 L843.4,231.0 L844.3,241.7 L845.2,250.7 L846.1,257.7 L847.0,264.9 L847.8,259.1 L848.7,250.7 L849.6,256.1 L850.5,263.6 L851.4,270.3 L852.3,260.8 L853.2,250.7 L854.1,248.2 L855.0,242.2 L855.9,241.7 L856.8,247.6 L857.6,252.4 L858.5,263.2 L859.4,272.1 L860.3,282.4 L861.2,293.5 L862.1,294.8 L863.0,297.0 L863.9,297.0 L864.8,296.5 L865.7,300.3 L866.6,302.4 L867.5,291.6 L868.4,284.6 L869.2,288.4 L870.1,288.7 L871.0,291.7 L871.9,288.5 L872.8,281.8 L873.7,277.6 L874.6,273.9 L875.5,268.1 L876.4,262.6 L877.3,256.0 L878.2,255.6 L879.1,254.7 L879.9,254.6 L880.8,252.4 L881.7,245.8 L882.6,240.9 L883.5,234.6 L884.4,235.3 L885.3,234.6 L886.2,236.3 L887.1,238.2 L888.0,246.5 L888.9,254.1 L889.8,264.9 L890.7,266.4 L891.5,264.9 L892.4,268.5 L893.3,266.7 L894.2,261.4 L895.1,265.6 L896.0,268.8 L896.9,271.0 L897.8,275.6 L898.7,281.8 L899.6,286.2 L900.5,292.8 L901.4,295.2 L902.2,291.4 L903.1,286.2 L904.0,282.8 L904.9,284.2 L905.8,283.5 L906.7,284.8 L907.6,285.3 L908.5,286.3 L909.4,284.3 L910.3,280.3 L911.2,280.3 L912.1,279.2 L913.0,276.4 L913.8,272.8 L914.7,270.2 L915.6,266.7 L916.5,268.2 L917.4,269.4 L918.3,270.8 L919.2,272.1 L920.1,276.8 L921.0,281.0 L921.9,277.1 L922.8,273.7 L923.7,273.9 L924.5,270.3 L925.4,271.3 L926.3,275.8 L927.2,273.4 L928.1,277.4 L929.0,280.4 L929.9,289.4 L930.8,293.3 L931.7,297.0 L932.6,296.3 L933.5,295.6 L934.4,299.0 L935.2,297.0 L936.1,295.7 L937.0,295.8 L937.9,292.5 L938.8,289.9 L939.7,288.0 L940.6,286.6 L941.5,284.9 L942.4,285.9 L943.3,281.8 L944.2,281.0 L945.1,279.7 L946.0,280.7 L946.8,277.7 L947.7,278.5 L948.6,276.8 L949.5,277.4 L950.4,276.5 L951.3,276.4 L952.2,278.9 L953.1,275.6 L954.0,276.3 L954.9,274.8 L955.8,275.9 L956.7,279.2 L957.6,282.7 L958.4,284.7 L959.3,282.2 L960.2,286.3 L961.1,283.1 L962.0,278.0 L962.9,277.8 L963.8,273.9 L964.7,279.8 L965.6,284.1 L966.5,291.7 L967.4,299.3 L968.3,302.7 L969.1,309.5 L970.0,311.8 L970.9,313.1 L971.8,310.8 L972.7,305.1 L973.6,298.9 L974.5,297.0 L975.4,300.0 L976.3,301.5 L977.2,302.4 L978.1,299.6 L979.0,299.2 L979.9,296.4 L980.7,293.5 L981.6,296.1 L982.5,302.3 L983.4,304.2 L984.3,303.5 L985.2,305.0 L986.1,299.4 L987.0,302.4 L987.9,300.8 L988.8,299.5 L989.7,297.8 L990.6,295.2 L991.4,293.2 L992.3,290.2 L993.2,291.7 L994.1,296.9 L995.0,304.2 L995.9,306.7 L996.8,304.4 L997.7,304.2 L998.6,302.4" fill="none" stroke="#000000" stroke-width="4.4" stroke-linejoin="round" stroke-linecap="round"/>

</g>
<circle cx="160.5" cy="701" r="10" fill="#dd3a3c"/>
<circle cx="415.5" cy="701" r="10" fill="#f7983e"/>
<circle cx="671" cy="701" r="10" fill="#2a9a3e"/>
<circle cx="160.5" cy="732" r="10" fill="#1c92b2"/>
<circle cx="415.5" cy="732" r="10" fill="#000000"/>
<text transform="translate(183.2,709.6) scale(1.07,1)" class="lgr" textLength="86.64" lengthAdjust="spacing">Omega 2</text>
<text transform="translate(286.8,709.6) scale(1.07,1)" class="lgr" textLength="66.54" lengthAdjust="spacing">–6.81%</text>
<text transform="translate(438.2,709.6) scale(1.07,1)" class="lgr" textLength="86.64" lengthAdjust="spacing">Omega 3</text>
<text transform="translate(541.8,709.6) scale(1.07,1)" class="lgr" textLength="78.50" lengthAdjust="spacing">–10.69%</text>
<text transform="translate(693.2,709.6) scale(1.07,1)" class="lgr" textLength="86.26" lengthAdjust="spacing">Omega 4</text>
<text transform="translate(796.8,709.6) scale(1.07,1)" class="lgr" textLength="79.63" lengthAdjust="spacing">–13.08%</text>
<text transform="translate(183.2,740.8) scale(1.07,1)" class="lgr" textLength="86.64" lengthAdjust="spacing">Omega 5</text>
<text transform="translate(284.5,740.8) scale(1.07,1)" class="lgr" textLength="69.72" lengthAdjust="spacing">14.70%</text>
<text transform="translate(438.2,740.8) scale(1.07,1)" class="lgr" textLength="86.64" lengthAdjust="spacing">Omega 6</text>
<text transform="translate(540.3,740.8) scale(1.07,1)" class="lgr" textLength="67.94" lengthAdjust="spacing">62.55%</text>

<text x="863.8" y="776.3" class="cr" textLength="142.3" lengthAdjust="spacingAndGlyphs">Longboat Analytics</text>
</svg>
</body></html>
